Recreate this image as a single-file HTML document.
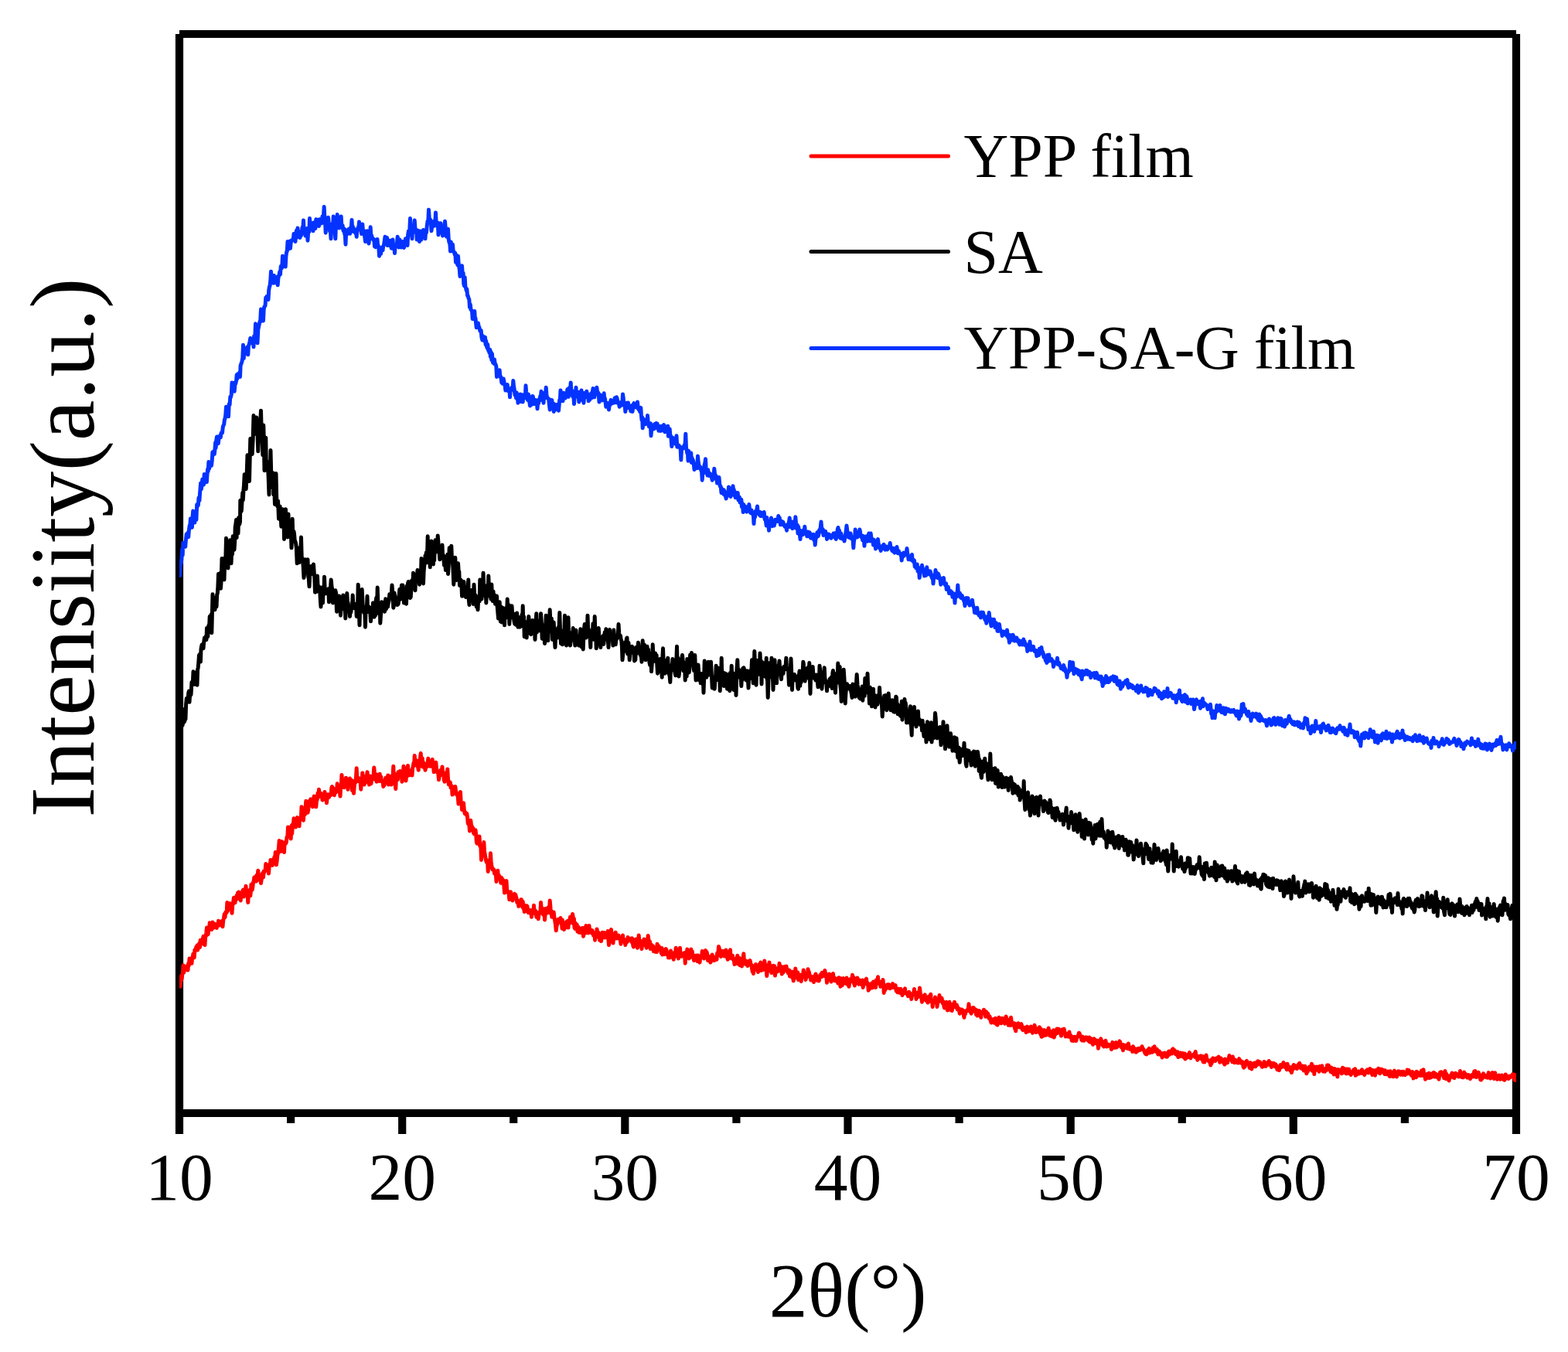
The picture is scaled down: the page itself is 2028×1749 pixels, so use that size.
<!DOCTYPE html>
<html lang="en">
<head>
<meta charset="utf-8">
<title>XRD patterns</title>
<style>
html, body { margin: 0; padding: 0; background: #ffffff; }
body { width: 2028px; height: 1749px; overflow: hidden; font-family: "Liberation Serif", serif; }
svg { display: block; }
</style>
</head>
<body>
<svg width="2028" height="1749" viewBox="0 0 2028 1749" role="img" aria-label="XRD patterns of YPP film, SA and YPP-SA-G film">
<rect width="2028" height="1749" fill="#ffffff"/>
<g id="axes" stroke="#000" stroke-width="10.2" stroke-linecap="butt" fill="none">
<line x1="232" y1="44" x2="232" y2="1467"/>
<line x1="1961" y1="44" x2="1961" y2="1467"/>
<line x1="232" y1="44" x2="1961" y2="44"/>
<line x1="232" y1="1440" x2="1961" y2="1440"/>
<line x1="520.2" y1="1440" x2="520.2" y2="1467"/>
<line x1="808.3" y1="1440" x2="808.3" y2="1467"/>
<line x1="1096.5" y1="1440" x2="1096.5" y2="1467"/>
<line x1="1384.7" y1="1440" x2="1384.7" y2="1467"/>
<line x1="1672.8" y1="1440" x2="1672.8" y2="1467"/>
<line x1="376.1" y1="1440" x2="376.1" y2="1453"/>
<line x1="664.2" y1="1440" x2="664.2" y2="1453"/>
<line x1="952.4" y1="1440" x2="952.4" y2="1453"/>
<line x1="1240.6" y1="1440" x2="1240.6" y2="1453"/>
<line x1="1528.8" y1="1440" x2="1528.8" y2="1453"/>
<line x1="1816.9" y1="1440" x2="1816.9" y2="1453"/>
</g>
<defs><clipPath id="plotclip"><rect x="232" y="44" width="1729.0" height="1396.0"/></clipPath></defs>
<g id="curves" clip-path="url(#plotclip)" fill="none" stroke-width="5" stroke-linejoin="round" stroke-linecap="round">
<polyline id="red" stroke="#ff0000" points="233.0,1276.2 233.8,1269.1 234.5,1262.5 235.1,1266.9 235.8,1260.7 236.4,1259.2 237.0,1248.8 237.8,1258.1 238.5,1252.1 239.2,1250.2 240.0,1251.2 240.7,1253.2 241.5,1250.0 242.2,1255.0 243.0,1255.0 243.7,1246.3 244.3,1249.0 245.0,1240.0 245.7,1245.7 246.6,1243.8 247.2,1243.0 248.0,1246.2 248.7,1238.4 249.3,1237.6 249.9,1234.0 250.6,1235.3 251.2,1238.8 251.9,1228.7 252.5,1229.2 253.1,1227.8 253.8,1225.0 254.4,1227.9 255.0,1223.1 255.7,1229.1 256.4,1222.3 257.0,1226.2 257.8,1220.2 258.5,1225.5 259.2,1216.2 260.0,1217.5 260.7,1220.9 261.4,1220.1 262.3,1214.6 263.0,1211.2 263.7,1221.5 264.3,1214.6 265.0,1222.5 265.6,1212.9 266.2,1211.1 266.8,1206.6 267.5,1200.0 268.3,1206.2 269.0,1208.9 269.7,1203.8 270.6,1202.6 271.2,1193.8 271.9,1201.6 272.6,1201.5 273.2,1202.3 273.8,1202.5 274.4,1200.8 275.0,1193.1 275.7,1200.4 276.4,1199.7 277.0,1195.0 277.7,1195.2 278.2,1197.6 278.9,1197.0 279.5,1200.0 280.2,1200.4 281.0,1196.7 281.7,1197.5 282.5,1191.2 283.2,1196.3 284.0,1196.8 284.7,1193.8 285.5,1192.5 286.1,1192.1 286.7,1191.6 287.4,1192.4 288.0,1198.8 288.7,1191.0 289.5,1187.5 290.3,1182.4 291.0,1186.6 291.7,1180.3 292.5,1181.2 293.2,1180.4 293.8,1167.5 294.4,1178.6 295.1,1175.0 295.7,1173.4 296.4,1171.7 297.0,1168.8 297.7,1172.8 298.6,1169.1 299.3,1173.3 300.0,1181.2 300.7,1171.4 301.3,1169.5 301.9,1165.1 302.5,1161.2 303.2,1162.5 304.0,1167.8 304.7,1163.0 305.5,1163.8 306.2,1158.3 306.9,1162.9 307.5,1155.0 308.3,1159.4 308.9,1154.0 309.8,1162.6 310.4,1159.4 311.2,1165.0 311.9,1156.8 312.4,1157.9 313.1,1157.3 313.8,1152.5 314.5,1151.0 315.2,1160.0 315.8,1152.0 316.5,1154.4 317.2,1156.3 318.0,1146.2 318.6,1155.4 319.3,1156.1 320.1,1158.0 320.8,1167.5 321.5,1153.2 322.3,1151.9 322.9,1157.1 323.8,1158.8 324.4,1153.5 324.9,1144.3 325.6,1146.0 326.2,1151.2 326.9,1146.8 327.6,1141.1 328.2,1140.2 328.8,1135.0 329.4,1137.6 330.0,1138.3 330.5,1139.4 331.2,1140.0 331.8,1132.4 332.5,1139.0 333.1,1133.0 333.8,1126.2 334.5,1132.2 335.3,1133.9 335.9,1134.6 336.7,1136.1 337.5,1142.5 338.3,1137.3 338.9,1131.8 339.8,1129.4 340.5,1135.0 341.2,1127.0 341.8,1128.5 342.4,1126.4 343.1,1126.1 343.8,1117.5 344.5,1118.8 345.2,1125.1 346.0,1125.8 346.8,1124.4 347.5,1130.0 348.2,1121.4 348.8,1117.7 349.4,1119.2 350.0,1112.5 350.7,1113.3 351.4,1115.3 352.3,1119.4 353.0,1116.2 353.7,1111.6 354.4,1111.8 355.0,1108.5 355.6,1115.6 356.2,1102.5 356.9,1114.3 357.5,1118.8 358.2,1113.2 358.9,1106.5 359.7,1103.3 360.5,1096.4 361.2,1087.5 362.0,1100.1 362.5,1096.4 363.2,1101.5 363.8,1097.4 364.5,1088.8 365.3,1091.9 366.0,1094.1 366.8,1092.1 367.5,1102.5 368.2,1089.7 368.8,1090.3 369.5,1091.2 370.3,1089.7 371.0,1082.9 371.8,1082.9 372.5,1070.0 373.2,1073.0 374.1,1082.2 374.8,1076.9 375.5,1076.2 376.2,1085.0 377.0,1068.2 377.7,1078.3 378.5,1066.3 379.3,1068.9 380.0,1058.8 380.6,1062.2 381.2,1067.0 381.9,1064.4 382.5,1070.0 383.2,1064.0 383.8,1068.1 384.5,1057.5 385.2,1066.3 385.7,1064.9 386.4,1059.3 387.0,1068.8 387.7,1058.2 388.5,1058.9 389.3,1059.7 390.0,1043.8 390.6,1051.1 391.3,1052.0 391.8,1057.8 392.5,1061.2 393.1,1045.5 393.8,1049.0 394.4,1053.8 395.1,1044.0 395.8,1036.2 396.5,1042.9 397.2,1049.3 398.0,1051.2 398.7,1047.7 399.4,1040.6 400.0,1036.6 400.6,1042.5 401.2,1035.0 401.9,1033.8 402.5,1040.7 403.1,1037.1 403.9,1037.6 404.5,1043.8 405.4,1034.9 406.2,1030.0 406.9,1039.8 407.4,1037.8 408.1,1033.6 408.8,1043.8 409.6,1034.6 410.3,1034.5 411.0,1025.9 411.8,1031.0 412.5,1021.2 413.1,1030.5 413.8,1026.9 414.4,1028.4 415.0,1026.2 415.7,1029.6 416.3,1028.2 416.9,1034.7 417.5,1035.0 418.2,1030.6 418.7,1029.1 419.3,1028.6 420.0,1024.5 420.6,1033.8 421.2,1030.2 421.9,1032.1 422.5,1038.8 423.3,1030.6 424.0,1027.7 424.7,1028.4 425.5,1031.4 426.2,1028.8 426.9,1027.7 427.6,1026.8 428.2,1028.4 428.8,1019.3 429.5,1017.5 430.3,1020.5 431.0,1019.6 431.8,1021.7 432.5,1028.8 433.2,1020.7 433.9,1025.6 434.8,1020.8 435.5,1024.1 436.2,1013.8 437.0,1019.6 437.8,1018.3 438.6,1020.8 439.2,1022.5 440.0,1030.0 440.7,1017.6 441.3,1016.4 442.0,1002.5 442.8,1013.2 443.4,1014.5 444.2,1013.5 445.0,1018.8 445.6,1009.9 446.2,1014.0 446.8,1015.2 447.5,1006.2 448.2,1010.3 448.8,1016.9 449.3,1016.1 450.0,1021.2 450.6,1014.7 451.3,1013.2 451.9,1010.9 452.5,1007.0 453.2,1011.2 454.1,1012.8 454.8,1009.5 455.5,1022.5 456.2,1014.5 456.8,1021.0 457.5,1026.2 458.3,1016.7 458.9,1010.2 459.7,1012.5 460.5,1005.1 461.2,993.8 461.9,1007.8 462.5,1005.4 463.1,1010.5 463.8,1010.0 464.5,1008.8 465.3,1007.0 466.1,1010.7 466.8,1021.2 467.3,1011.6 468.1,1013.0 468.8,1000.0 469.4,1004.9 470.0,1007.3 470.5,1006.3 471.2,1015.0 471.9,1008.6 472.7,1012.4 473.5,1004.2 474.3,1005.4 475.0,998.8 475.6,1004.1 476.3,1006.6 476.9,1006.4 477.5,1015.0 478.1,1004.7 478.7,1004.1 479.5,1007.2 480.0,1013.8 480.8,1005.7 481.5,1004.1 482.2,1005.4 483.0,1004.5 483.8,993.0 484.4,1000.4 485.0,1008.2 485.7,1002.5 486.4,1002.3 487.0,1011.2 487.7,1002.1 488.4,1008.5 489.1,1009.3 489.8,1002.8 490.6,1010.6 491.2,1001.2 491.9,1006.9 492.8,1005.1 493.4,1010.9 494.3,1011.4 495.0,1010.0 495.8,1017.5 496.5,1010.8 497.2,1015.7 498.0,1009.5 498.8,1006.2 499.6,1006.5 500.3,1009.4 501.0,1010.2 501.8,1002.9 502.5,1015.0 503.3,1009.8 503.9,1007.7 504.7,1004.3 505.5,1007.8 506.2,1015.0 506.9,1006.2 507.5,1005.2 508.1,1004.7 508.8,991.2 509.4,1007.8 510.3,1001.0 511.0,1013.8 511.8,1020.5 512.4,1005.2 513.0,1004.5 513.7,1006.4 514.4,1008.6 515.0,998.8 515.6,1000.4 516.2,1002.3 516.9,1003.2 517.5,997.5 518.2,1003.8 518.7,1000.6 519.3,1002.9 520.0,1011.2 520.7,1004.6 521.3,1000.7 522.0,991.2 522.8,1000.1 523.5,999.7 524.2,1001.5 525.0,1010.0 525.7,1002.0 526.3,1003.6 526.8,994.9 527.5,990.5 528.1,999.7 528.7,1003.1 529.3,999.7 530.0,1002.5 530.8,999.5 531.5,996.9 532.2,999.3 533.0,1003.0 533.6,993.6 534.3,991.6 534.9,987.3 535.6,990.6 536.2,977.5 536.9,987.2 537.5,985.5 538.2,983.8 538.8,983.8 539.4,990.3 540.0,990.6 540.6,992.4 541.2,996.2 541.9,987.6 542.8,991.2 543.4,981.4 544.2,974.5 545.0,985.1 545.6,987.3 546.3,981.0 546.8,992.1 547.5,986.2 548.2,989.9 548.7,992.9 549.4,988.4 550.0,996.2 550.8,992.0 551.5,992.2 552.2,987.5 552.9,990.4 553.8,981.2 554.4,989.9 554.9,990.8 555.7,990.2 556.2,991.2 556.9,985.8 557.7,991.3 558.5,984.7 559.2,982.5 559.9,989.9 560.7,991.9 561.2,998.8 561.8,992.9 562.5,993.3 563.1,991.9 563.8,986.2 564.5,994.1 565.3,998.9 566.0,998.2 566.7,999.2 567.5,1008.8 568.3,1003.9 569.0,1003.2 569.7,996.6 570.5,1002.4 571.2,997.9 572.0,992.0 572.8,1002.4 573.6,999.2 574.3,1009.1 575.0,1011.2 575.7,1007.2 576.6,1004.3 577.3,1009.0 578.1,1001.8 578.8,995.0 579.4,1006.8 580.3,1014.8 581.0,1013.9 581.8,1012.5 582.3,1012.2 583.0,1019.0 583.7,1016.4 584.4,1016.8 585.0,1028.0 585.7,1020.2 586.5,1023.5 587.3,1018.8 588.0,1026.6 588.8,1017.5 589.4,1021.7 590.0,1025.2 590.7,1026.0 591.2,1028.8 592.1,1028.9 593.0,1040.0 593.7,1032.5 594.2,1033.3 594.9,1033.3 595.5,1024.5 596.2,1038.5 596.9,1038.7 597.5,1047.5 598.2,1042.0 598.8,1039.0 599.5,1038.8 600.4,1048.4 601.2,1052.5 601.9,1050.9 602.6,1053.5 603.1,1053.4 603.8,1052.5 604.6,1057.7 605.3,1065.4 606.0,1066.2 606.7,1065.7 607.5,1075.0 608.1,1070.2 608.8,1061.2 609.5,1067.4 610.3,1068.7 611.0,1073.7 611.7,1071.1 612.5,1077.5 613.2,1078.6 613.8,1075.4 614.4,1077.9 615.0,1073.8 615.7,1079.5 616.3,1088.9 617.0,1091.2 617.7,1087.3 618.5,1086.4 619.3,1088.2 620.0,1082.0 620.7,1094.3 621.3,1093.9 621.9,1095.3 622.5,1112.5 623.1,1098.6 623.9,1102.2 624.4,1102.4 625.1,1104.3 625.8,1089.5 626.5,1100.5 627.3,1106.3 628.0,1110.0 628.6,1113.3 629.3,1115.3 629.9,1113.5 630.6,1114.4 631.2,1127.5 632.0,1116.5 632.6,1113.0 633.3,1113.6 633.8,1116.2 634.5,1103.8 635.1,1114.9 635.7,1118.9 636.5,1123.3 637.0,1125.0 637.6,1124.9 638.2,1124.3 638.9,1125.2 639.5,1130.0 640.2,1127.1 640.8,1128.7 641.3,1130.3 642.0,1140.5 642.9,1132.0 643.8,1126.2 644.3,1134.0 645.0,1131.9 645.7,1133.3 646.4,1136.4 647.0,1136.2 647.8,1142.2 648.5,1135.3 649.3,1136.8 650.0,1138.8 650.7,1138.4 651.2,1142.1 651.8,1145.2 652.5,1155.0 653.1,1145.7 653.8,1147.2 654.4,1152.0 655.0,1139.5 655.7,1152.2 656.5,1152.6 657.3,1154.9 658.0,1155.2 658.8,1163.8 659.7,1156.0 660.5,1153.8 661.1,1159.4 661.8,1160.1 662.4,1161.8 663.0,1165.0 663.7,1161.5 664.3,1161.1 664.8,1161.8 665.5,1156.2 666.2,1161.6 666.8,1157.4 667.4,1160.0 668.1,1162.1 668.8,1167.5 669.4,1165.2 670.0,1166.0 670.8,1172.5 671.5,1169.2 672.3,1170.7 673.0,1166.8 673.8,1163.8 674.4,1163.7 675.0,1168.7 675.7,1173.3 676.2,1166.2 676.9,1175.1 677.5,1174.1 678.2,1179.5 679.0,1171.2 679.8,1177.6 680.5,1178.4 681.3,1171.8 682.0,1172.5 682.7,1178.1 683.3,1180.8 684.1,1179.2 684.7,1180.7 685.5,1177.5 686.1,1181.2 686.8,1179.9 687.5,1186.2 688.2,1177.6 689.0,1180.3 689.7,1181.6 690.5,1171.2 691.2,1180.1 691.8,1179.3 692.5,1178.0 693.0,1180.0 693.8,1186.2 694.3,1183.3 695.1,1182.6 695.6,1180.6 696.2,1188.8 696.9,1183.9 697.6,1180.0 698.2,1181.6 698.9,1180.2 699.5,1167.5 700.4,1176.6 701.2,1181.2 702.0,1181.1 702.6,1183.1 703.2,1179.9 703.8,1175.8 704.5,1190.0 705.3,1180.3 706.0,1175.5 706.7,1179.5 707.5,1175.0 708.2,1181.0 709.1,1176.7 709.7,1173.3 710.5,1178.7 711.2,1165.0 711.9,1173.3 712.4,1181.9 713.1,1178.5 713.8,1186.2 714.3,1186.1 715.0,1185.2 715.6,1184.6 716.2,1180.0 716.9,1186.8 717.7,1191.1 718.5,1196.2 719.2,1203.8 720.0,1197.8 720.5,1196.4 721.2,1190.0 722.1,1189.3 722.8,1189.2 723.5,1190.1 724.2,1192.0 725.0,1187.5 725.7,1194.4 726.3,1190.4 727.0,1201.2 727.3,1190.0 728.0,1195.5 728.7,1198.1 729.5,1202.5 730.3,1195.7 730.9,1199.9 731.7,1196.1 732.5,1192.5 733.0,1199.8 733.8,1196.7 734.4,1191.3 735.0,1200.0 735.6,1190.8 736.3,1192.0 736.8,1190.6 737.5,1186.2 738.3,1193.7 739.1,1190.1 739.7,1189.2 740.5,1182.5 741.1,1185.8 741.8,1195.1 742.4,1188.4 743.0,1200.0 743.6,1201.3 744.3,1194.2 745.0,1197.3 745.6,1197.3 746.2,1196.2 746.9,1205.1 747.5,1200.6 748.1,1199.3 748.8,1206.2 749.4,1202.0 750.1,1203.7 750.8,1206.4 751.3,1201.9 752.0,1201.2 752.6,1205.9 753.2,1200.6 753.9,1206.9 754.5,1211.2 755.3,1200.5 756.0,1207.8 756.7,1207.3 757.3,1206.9 758.0,1197.5 758.6,1204.7 759.4,1201.9 760.0,1202.2 760.7,1207.0 761.3,1204.6 762.0,1197.5 762.6,1205.9 763.2,1202.3 763.9,1205.2 764.5,1203.8 765.3,1206.9 766.0,1203.6 766.8,1206.0 767.5,1210.0 768.2,1208.3 768.9,1207.2 769.5,1216.2 770.1,1211.7 770.8,1208.9 771.4,1212.5 772.0,1202.0 772.7,1206.3 773.5,1211.6 774.2,1206.6 775.0,1210.0 775.6,1216.3 776.2,1209.4 776.8,1215.7 777.5,1217.5 778.2,1212.9 779.1,1206.2 779.7,1208.5 780.5,1207.5 781.2,1212.7 781.8,1206.5 782.5,1212.9 783.1,1208.5 783.8,1212.5 784.4,1207.3 784.9,1208.7 785.6,1210.2 786.2,1204.5 786.8,1214.8 787.5,1222.5 788.3,1218.6 789.0,1213.6 789.7,1210.5 790.5,1202.5 791.1,1208.8 791.8,1207.9 792.3,1208.8 793.0,1220.0 793.6,1210.3 794.3,1213.3 795.0,1208.1 795.7,1214.1 796.2,1206.2 796.9,1214.0 797.8,1211.1 798.5,1213.8 799.2,1211.5 800.0,1210.0 800.8,1214.4 801.4,1213.0 802.3,1215.6 803.0,1221.2 803.7,1216.8 804.3,1218.3 804.8,1213.7 805.5,1210.0 806.1,1215.5 806.8,1217.0 807.4,1215.4 808.2,1218.1 808.8,1222.5 809.5,1219.2 810.0,1215.9 810.7,1216.5 811.3,1218.5 812.0,1212.5 812.7,1213.8 813.5,1213.9 814.3,1215.6 815.0,1216.2 815.6,1214.4 816.2,1215.2 816.8,1218.5 817.5,1213.8 818.1,1217.2 818.8,1223.3 819.5,1225.0 820.3,1218.7 821.0,1220.1 821.8,1215.4 822.5,1215.0 823.1,1218.2 823.8,1220.4 824.5,1226.2 825.4,1218.7 826.2,1210.0 827.0,1220.8 827.7,1219.9 828.5,1217.1 829.3,1220.6 830.0,1227.5 830.7,1220.0 831.5,1220.8 832.2,1219.9 833.0,1215.0 833.7,1220.6 834.3,1216.0 834.9,1223.2 835.6,1218.7 836.2,1226.2 836.9,1218.9 837.6,1216.0 838.2,1210.5 839.1,1217.1 839.7,1218.7 840.5,1218.1 841.2,1227.5 841.9,1221.9 842.6,1222.4 843.1,1224.1 843.8,1226.6 844.5,1223.8 845.2,1230.4 846.1,1225.8 846.7,1230.1 847.5,1231.2 848.1,1228.1 848.8,1230.2 849.5,1231.5 850.0,1221.2 850.7,1226.0 851.5,1227.1 852.2,1224.0 853.0,1227.5 853.8,1226.4 854.6,1230.0 855.2,1233.0 856.1,1226.6 856.7,1235.0 857.5,1233.8 858.2,1231.1 859.0,1230.4 859.8,1234.4 860.5,1229.3 861.2,1227.5 861.9,1228.7 862.6,1233.0 863.2,1235.1 863.8,1233.8 864.5,1238.8 865.3,1232.9 866.0,1238.9 866.8,1233.3 867.5,1230.0 868.3,1237.7 869.0,1236.2 869.7,1234.7 870.6,1239.0 871.2,1241.2 872.0,1232.5 872.7,1232.9 873.5,1232.9 874.2,1226.2 875.0,1231.0 875.5,1237.3 876.1,1233.4 876.9,1234.2 877.5,1240.0 878.2,1237.2 878.8,1234.8 879.5,1226.2 880.2,1235.8 881.1,1233.8 881.7,1237.2 882.5,1236.2 883.2,1233.5 884.0,1236.0 884.7,1236.9 885.5,1232.5 886.2,1246.2 886.9,1233.7 887.5,1237.3 888.2,1233.2 888.8,1228.0 889.4,1231.9 889.9,1234.5 890.6,1232.4 891.2,1240.0 891.9,1234.1 892.5,1238.5 893.1,1234.6 893.8,1228.0 894.4,1232.9 895.3,1230.9 896.0,1238.2 896.8,1236.7 897.5,1242.5 898.3,1239.7 899.0,1236.2 899.7,1241.4 900.4,1238.2 901.2,1236.2 901.9,1243.6 902.8,1236.1 903.5,1236.8 904.2,1244.1 905.0,1245.0 905.6,1240.2 906.3,1237.5 907.0,1238.1 907.6,1235.7 908.2,1230.5 908.9,1232.9 909.7,1236.4 910.5,1240.0 911.2,1236.2 911.9,1237.4 912.5,1229.5 913.2,1237.6 914.0,1231.5 914.7,1234.2 915.5,1242.5 916.2,1238.2 916.8,1238.8 917.5,1237.8 918.1,1237.5 918.8,1245.0 919.4,1244.2 920.0,1240.0 920.6,1238.6 921.2,1235.0 921.9,1239.4 922.5,1238.6 923.1,1240.8 923.8,1242.5 924.4,1238.8 925.1,1238.2 925.8,1240.6 926.3,1238.1 927.0,1241.2 927.6,1233.1 928.3,1236.0 928.8,1233.2 929.5,1224.5 930.2,1226.6 931.0,1231.2 931.8,1232.4 932.5,1237.5 933.2,1234.6 934.0,1230.2 934.7,1230.8 935.5,1232.4 936.2,1230.5 937.0,1237.0 937.5,1231.4 938.2,1234.7 938.9,1229.0 939.5,1230.0 940.3,1237.4 941.2,1241.2 942.0,1235.2 942.5,1236.1 943.2,1237.5 943.8,1236.0 944.5,1228.8 945.2,1239.6 946.0,1236.3 946.8,1239.2 947.5,1236.2 948.1,1241.2 948.8,1239.8 949.3,1242.1 950.0,1247.5 950.8,1242.2 951.4,1245.2 952.2,1245.2 953.1,1239.9 953.8,1236.2 954.4,1247.0 955.1,1238.9 955.7,1241.6 956.4,1239.4 957.0,1248.8 957.6,1240.5 958.2,1242.6 958.8,1243.7 959.5,1250.0 960.3,1244.6 961.0,1239.3 961.8,1233.8 962.4,1242.0 963.1,1242.2 963.9,1242.6 964.5,1247.5 965.2,1244.9 965.7,1243.5 966.3,1243.7 967.0,1249.5 967.7,1243.8 968.5,1246.6 969.3,1245.6 970.0,1242.5 970.6,1244.9 971.3,1248.9 971.8,1248.1 972.5,1252.5 973.2,1256.9 973.9,1249.6 974.5,1259.5 975.2,1253.2 976.0,1254.0 976.8,1251.5 977.5,1247.5 978.2,1254.1 979.0,1254.4 979.8,1250.3 980.5,1257.5 981.1,1252.4 981.8,1255.7 982.5,1247.0 983.2,1249.9 983.8,1245.0 984.5,1255.6 985.1,1251.6 985.8,1253.3 986.6,1253.5 987.4,1254.3 988.1,1253.0 988.8,1243.0 989.6,1250.9 990.2,1254.2 990.9,1248.5 991.8,1262.5 992.5,1255.8 993.0,1251.7 993.7,1254.7 994.3,1252.3 995.0,1245.0 995.7,1255.8 996.5,1249.2 997.2,1252.1 998.0,1258.6 998.8,1253.8 999.5,1254.1 1000.3,1249.2 1001.0,1254.1 1001.7,1249.7 1002.5,1262.0 1003.3,1252.5 1003.9,1253.5 1004.7,1257.4 1005.5,1253.8 1006.2,1253.8 1006.7,1256.2 1007.4,1254.0 1008.0,1246.2 1008.7,1252.4 1009.3,1252.8 1010.0,1250.0 1010.6,1252.1 1011.2,1260.0 1011.9,1255.4 1012.5,1256.6 1013.1,1257.9 1013.8,1252.0 1014.4,1250.5 1015.0,1252.2 1015.7,1253.4 1016.3,1255.0 1017.0,1250.0 1017.8,1254.9 1018.5,1257.0 1019.3,1258.6 1020.0,1259.5 1020.7,1255.0 1021.5,1262.9 1022.3,1258.4 1023.0,1262.7 1023.8,1258.8 1024.4,1257.2 1024.9,1265.0 1025.7,1261.0 1026.2,1268.8 1026.8,1265.9 1027.4,1264.0 1028.2,1263.0 1028.8,1253.0 1029.5,1264.4 1030.3,1263.2 1031.1,1264.6 1031.8,1258.1 1032.5,1267.5 1033.3,1261.0 1034.0,1260.9 1034.7,1263.4 1035.5,1262.6 1036.2,1269.5 1037.0,1261.0 1037.7,1262.1 1038.5,1263.4 1039.2,1255.0 1039.9,1259.4 1040.6,1260.6 1041.4,1261.1 1042.0,1267.5 1042.8,1264.3 1043.5,1261.0 1044.3,1261.3 1045.0,1253.8 1045.7,1256.7 1046.5,1257.8 1047.3,1263.7 1048.1,1262.9 1048.8,1268.0 1049.6,1263.1 1050.3,1265.2 1051.0,1266.8 1051.7,1267.3 1052.5,1270.5 1053.2,1266.9 1053.7,1263.9 1054.4,1261.1 1055.0,1260.0 1055.8,1265.7 1056.5,1267.6 1057.2,1262.7 1058.0,1268.8 1058.7,1267.5 1059.3,1268.8 1059.9,1263.7 1060.6,1262.9 1061.2,1261.2 1061.9,1260.2 1062.6,1263.7 1063.2,1258.3 1063.8,1262.5 1064.5,1261.3 1065.2,1259.4 1065.9,1262.5 1066.8,1255.5 1067.4,1258.2 1068.1,1260.4 1068.8,1262.6 1069.5,1271.2 1070.2,1264.2 1071.0,1263.4 1071.8,1265.0 1072.5,1260.0 1073.1,1267.3 1073.8,1264.7 1074.4,1262.8 1075.0,1270.0 1075.6,1266.8 1076.3,1260.7 1076.8,1264.1 1077.5,1259.5 1078.2,1267.3 1079.0,1264.5 1079.8,1268.8 1080.5,1268.5 1081.2,1266.2 1081.8,1269.1 1082.5,1266.7 1083.1,1266.0 1083.8,1272.0 1084.4,1270.7 1085.0,1264.7 1085.8,1269.9 1086.4,1270.8 1087.0,1276.2 1087.7,1265.8 1088.6,1267.5 1089.3,1274.8 1090.0,1267.5 1090.7,1265.6 1091.4,1270.0 1092.1,1270.9 1092.8,1268.9 1093.6,1272.2 1094.2,1268.6 1095.0,1265.0 1095.7,1271.0 1096.4,1273.5 1097.2,1271.6 1098.0,1276.2 1098.7,1271.0 1099.6,1266.7 1100.3,1268.6 1100.9,1268.8 1101.8,1266.8 1102.5,1261.2 1103.2,1270.4 1104.0,1264.3 1104.7,1272.9 1105.5,1275.0 1106.1,1268.8 1106.7,1270.9 1107.4,1271.6 1108.1,1271.0 1108.8,1265.0 1109.3,1267.9 1110.0,1267.7 1110.7,1273.3 1111.3,1267.8 1112.0,1271.2 1112.7,1269.8 1113.4,1272.9 1114.1,1273.6 1114.8,1272.1 1115.5,1267.9 1116.2,1277.5 1116.9,1272.8 1117.6,1270.3 1118.4,1273.2 1119.1,1270.8 1119.8,1267.1 1120.5,1266.2 1121.2,1272.3 1121.9,1272.5 1122.5,1272.0 1123.2,1281.2 1124.0,1275.1 1124.7,1279.4 1125.4,1275.1 1126.2,1275.0 1126.9,1272.6 1127.6,1275.4 1128.2,1277.9 1128.8,1271.7 1129.5,1270.0 1130.2,1271.9 1131.0,1271.9 1131.8,1271.1 1132.5,1277.5 1133.2,1267.9 1133.9,1271.1 1134.7,1269.6 1135.5,1263.8 1136.1,1272.3 1136.7,1272.4 1137.5,1269.9 1138.1,1270.3 1138.8,1276.2 1139.4,1274.9 1140.1,1270.3 1140.7,1273.0 1141.3,1275.1 1142.0,1267.5 1142.7,1274.5 1143.2,1284.5 1143.9,1279.1 1144.7,1281.0 1145.3,1276.4 1146.1,1276.8 1146.8,1274.7 1147.5,1273.8 1148.3,1277.9 1148.9,1275.0 1149.8,1273.7 1150.5,1275.3 1151.2,1278.8 1151.8,1276.1 1152.5,1276.6 1153.3,1276.6 1153.8,1277.5 1154.5,1272.5 1155.2,1274.3 1156.0,1274.7 1156.6,1277.5 1157.3,1276.5 1158.1,1274.6 1158.8,1280.0 1159.3,1282.0 1160.0,1281.8 1160.7,1283.7 1161.4,1282.1 1162.0,1283.8 1162.7,1279.1 1163.4,1284.2 1164.3,1280.1 1165.0,1279.5 1165.7,1284.9 1166.3,1282.0 1167.0,1287.5 1167.6,1284.0 1168.4,1285.4 1169.1,1281.6 1169.8,1280.8 1170.5,1278.8 1171.1,1284.9 1171.8,1284.8 1172.5,1285.0 1173.1,1284.6 1173.8,1286.2 1174.5,1288.6 1175.1,1286.0 1175.7,1283.3 1176.2,1287.5 1176.8,1285.2 1177.6,1287.3 1178.1,1285.7 1178.8,1292.5 1179.5,1286.6 1180.2,1287.7 1181.0,1286.0 1181.8,1283.5 1182.5,1279.5 1183.1,1287.1 1183.8,1285.2 1184.4,1284.4 1185.0,1292.5 1185.8,1285.5 1186.5,1284.5 1187.3,1289.8 1187.9,1288.4 1188.7,1286.0 1189.5,1278.0 1190.3,1285.0 1191.1,1289.0 1191.8,1290.9 1192.5,1296.2 1193.3,1291.3 1194.0,1292.6 1194.8,1289.0 1195.5,1287.5 1196.2,1286.8 1197.1,1290.8 1197.7,1294.2 1198.5,1295.1 1199.3,1291.2 1200.0,1297.0 1200.7,1294.5 1201.4,1289.0 1202.3,1295.3 1203.0,1292.3 1203.8,1286.2 1204.3,1295.2 1205.0,1294.4 1205.6,1294.6 1206.2,1302.5 1206.5,1296.2 1207.3,1296.3 1208.0,1296.8 1208.7,1295.5 1209.5,1290.0 1210.1,1294.1 1210.7,1295.5 1211.4,1295.4 1212.0,1302.5 1212.7,1296.9 1213.4,1295.2 1214.2,1295.8 1215.0,1287.5 1215.7,1294.8 1216.6,1293.4 1217.2,1294.0 1218.0,1291.2 1218.6,1294.3 1219.2,1297.7 1219.9,1295.4 1220.5,1298.8 1221.1,1302.6 1221.7,1303.9 1222.4,1298.0 1223.0,1300.0 1223.6,1299.7 1224.3,1296.4 1224.9,1301.8 1225.5,1307.0 1226.0,1301.4 1226.7,1302.8 1227.3,1298.5 1228.0,1296.2 1228.6,1301.2 1229.3,1306.5 1230.0,1300.5 1230.6,1302.2 1231.2,1307.5 1232.0,1302.9 1232.5,1298.9 1233.2,1298.9 1233.8,1300.5 1234.5,1296.2 1235.2,1301.7 1235.9,1302.8 1236.8,1302.1 1237.5,1300.0 1238.3,1305.8 1239.0,1303.3 1239.7,1305.6 1240.5,1306.4 1241.2,1311.2 1241.9,1305.5 1242.5,1310.0 1243.2,1308.0 1243.9,1306.8 1244.5,1306.2 1245.2,1307.5 1245.7,1309.9 1246.4,1313.3 1247.0,1316.2 1247.7,1307.9 1248.5,1311.6 1249.2,1308.4 1250.0,1307.5 1250.8,1306.6 1251.4,1307.4 1252.3,1305.4 1253.0,1298.8 1253.7,1305.6 1254.4,1303.3 1255.0,1309.0 1255.6,1309.3 1256.2,1311.2 1256.8,1307.3 1257.6,1306.4 1258.3,1308.5 1258.8,1303.4 1259.5,1303.8 1260.3,1307.6 1261.0,1306.7 1261.7,1306.0 1262.5,1312.5 1263.2,1306.7 1264.0,1313.9 1264.8,1309.7 1265.5,1310.0 1266.2,1307.5 1266.8,1313.8 1267.5,1308.3 1268.1,1313.2 1268.8,1316.2 1269.6,1310.3 1270.2,1309.9 1271.0,1310.8 1271.7,1310.2 1272.5,1306.2 1273.2,1310.7 1274.0,1311.1 1274.7,1315.1 1275.4,1308.8 1276.2,1310.0 1276.9,1313.6 1277.8,1311.4 1278.4,1315.8 1279.3,1317.6 1280.0,1315.0 1280.7,1317.0 1281.4,1321.1 1282.0,1323.0 1282.6,1321.5 1283.4,1320.8 1284.1,1320.4 1284.8,1318.5 1285.5,1320.5 1286.2,1323.3 1286.9,1320.8 1287.4,1317.3 1288.1,1321.2 1288.8,1325.0 1289.4,1322.5 1290.1,1326.0 1290.7,1320.7 1291.3,1320.7 1292.0,1316.2 1292.7,1322.9 1293.5,1320.6 1294.3,1321.1 1295.0,1323.8 1295.8,1317.3 1296.5,1318.0 1297.3,1319.3 1298.0,1317.5 1298.7,1319.9 1299.4,1324.2 1300.0,1323.0 1300.6,1318.8 1301.2,1315.0 1302.0,1319.6 1302.8,1318.7 1303.5,1319.1 1304.2,1326.2 1304.8,1320.6 1305.6,1320.7 1306.3,1321.1 1306.8,1326.4 1307.5,1316.2 1308.3,1322.1 1309.0,1326.0 1309.8,1324.8 1310.5,1325.0 1311.1,1323.8 1311.8,1323.7 1312.5,1330.6 1313.1,1329.0 1313.8,1333.8 1314.4,1324.8 1315.0,1326.0 1315.6,1328.5 1316.4,1327.9 1317.0,1323.8 1317.7,1328.7 1318.6,1329.0 1319.2,1327.0 1320.0,1325.0 1320.7,1324.6 1321.5,1326.2 1322.2,1331.6 1323.0,1332.5 1323.6,1331.6 1324.3,1329.8 1324.9,1329.3 1325.7,1329.5 1326.2,1331.2 1327.1,1335.5 1327.7,1331.3 1328.5,1328.1 1329.2,1328.8 1329.8,1334.2 1330.6,1331.6 1331.2,1330.4 1331.9,1331.4 1332.5,1333.8 1333.3,1328.1 1333.9,1333.7 1334.8,1330.1 1335.5,1336.2 1336.1,1330.2 1336.7,1332.6 1337.4,1331.8 1338.0,1326.2 1338.6,1328.2 1339.3,1334.2 1339.9,1335.4 1340.7,1331.1 1341.2,1333.8 1342.0,1330.7 1342.6,1332.5 1343.2,1332.8 1343.9,1335.3 1344.5,1328.8 1345.1,1334.5 1345.8,1338.0 1346.3,1331.0 1347.0,1341.2 1347.6,1341.1 1348.4,1335.2 1349.2,1340.0 1349.7,1336.5 1350.5,1332.5 1351.2,1339.5 1351.8,1336.1 1352.4,1338.1 1353.1,1337.3 1353.8,1338.8 1354.4,1333.3 1355.0,1338.2 1355.6,1333.3 1356.2,1330.0 1356.9,1334.7 1357.6,1333.6 1358.2,1340.1 1358.8,1337.2 1359.5,1340.0 1360.2,1335.1 1360.9,1340.8 1361.7,1337.5 1362.5,1332.8 1363.2,1342.0 1364.0,1339.0 1364.8,1338.3 1365.5,1333.9 1366.2,1333.8 1366.9,1331.0 1367.6,1336.4 1368.2,1332.5 1368.9,1331.1 1369.5,1331.2 1370.2,1335.2 1371.0,1335.5 1371.7,1335.6 1372.5,1340.0 1373.3,1334.8 1374.0,1331.9 1374.8,1335.3 1375.5,1333.1 1376.2,1331.2 1376.8,1334.0 1377.5,1337.4 1378.2,1340.9 1378.9,1337.0 1379.5,1340.0 1380.2,1338.5 1381.0,1340.9 1381.6,1338.9 1382.3,1339.3 1383.0,1335.0 1383.6,1341.5 1384.2,1338.7 1384.9,1339.6 1385.5,1341.4 1386.2,1346.2 1387.0,1344.2 1387.8,1341.7 1388.4,1346.4 1389.3,1341.2 1390.0,1341.2 1390.6,1341.8 1391.2,1345.0 1391.8,1346.4 1392.5,1343.8 1393.2,1341.0 1393.9,1340.7 1394.8,1338.9 1395.5,1336.2 1396.2,1337.0 1396.8,1339.2 1397.5,1341.7 1398.1,1341.7 1398.8,1345.0 1399.4,1345.9 1400.1,1341.0 1400.7,1344.1 1401.3,1344.9 1402.0,1346.2 1402.8,1344.9 1403.5,1344.0 1404.2,1341.9 1405.0,1343.8 1405.8,1342.0 1406.4,1345.1 1407.2,1345.9 1407.9,1346.6 1408.8,1342.0 1409.4,1348.0 1410.0,1345.3 1410.7,1346.5 1411.4,1343.6 1412.0,1348.8 1412.7,1347.4 1413.5,1351.3 1414.2,1349.9 1415.0,1343.8 1415.7,1344.6 1416.5,1348.7 1417.2,1345.8 1418.0,1350.0 1418.6,1350.1 1419.3,1345.9 1419.9,1349.3 1420.5,1356.2 1421.2,1351.8 1421.7,1351.5 1422.4,1349.7 1423.2,1348.6 1423.8,1343.8 1424.3,1349.1 1425.0,1346.5 1425.7,1349.1 1426.2,1352.5 1427.1,1347.9 1427.7,1354.0 1428.5,1349.3 1429.2,1350.7 1430.0,1346.2 1430.8,1352.0 1431.5,1354.0 1432.2,1351.2 1433.0,1353.4 1433.8,1351.2 1434.5,1351.5 1435.3,1352.0 1436.0,1353.4 1436.7,1353.5 1437.5,1357.5 1438.3,1351.0 1438.9,1348.4 1439.7,1353.2 1440.6,1355.3 1441.2,1349.5 1442.0,1355.3 1442.7,1351.6 1443.6,1348.6 1444.3,1355.0 1445.0,1353.8 1445.8,1352.3 1446.5,1352.7 1447.3,1350.5 1448.1,1346.9 1448.8,1348.0 1449.5,1353.6 1450.3,1354.8 1451.0,1351.7 1451.7,1351.6 1452.5,1358.8 1453.2,1351.7 1454.0,1356.0 1454.8,1355.1 1455.4,1352.5 1456.2,1353.8 1456.9,1352.2 1457.6,1355.6 1458.2,1356.3 1458.8,1355.1 1459.5,1350.0 1460.2,1354.7 1461.0,1357.1 1461.7,1355.1 1462.5,1357.5 1463.2,1357.6 1464.0,1356.9 1464.7,1360.4 1465.5,1353.8 1466.1,1359.6 1466.9,1355.9 1467.5,1357.2 1468.1,1360.5 1468.9,1358.9 1469.5,1361.2 1470.2,1360.1 1470.9,1359.9 1471.6,1356.5 1472.3,1356.4 1473.0,1356.2 1473.7,1358.7 1474.4,1357.2 1475.1,1358.0 1475.6,1357.0 1476.4,1356.7 1477.0,1353.8 1477.8,1356.4 1478.5,1356.6 1479.2,1358.1 1480.0,1360.0 1480.8,1362.1 1481.5,1363.3 1482.2,1362.5 1483.0,1363.8 1483.7,1359.9 1484.3,1358.4 1484.9,1358.3 1485.6,1358.3 1486.2,1356.2 1487.0,1362.1 1487.7,1359.0 1488.6,1359.4 1489.3,1358.9 1490.0,1361.2 1490.6,1361.1 1491.3,1355.2 1492.0,1357.6 1492.7,1359.4 1493.2,1353.8 1494.0,1359.8 1494.8,1358.4 1495.6,1360.6 1496.3,1357.2 1497.0,1361.2 1497.8,1363.9 1498.4,1360.6 1499.2,1359.8 1500.0,1362.5 1500.8,1364.4 1501.5,1364.8 1502.2,1362.4 1503.0,1368.0 1503.6,1364.9 1504.3,1366.4 1504.9,1363.4 1505.6,1363.2 1506.2,1362.0 1506.9,1363.7 1507.5,1366.5 1508.2,1364.3 1508.9,1367.3 1509.5,1367.0 1510.3,1365.9 1510.9,1361.1 1511.6,1360.2 1512.3,1364.4 1513.0,1360.0 1513.7,1361.9 1514.3,1363.0 1515.1,1360.5 1515.7,1363.0 1516.4,1357.4 1517.0,1357.0 1517.8,1358.2 1518.4,1361.4 1519.1,1358.6 1519.9,1361.1 1520.5,1363.8 1521.2,1363.7 1521.8,1364.5 1522.4,1364.0 1523.1,1360.7 1523.8,1367.5 1524.4,1366.6 1525.0,1363.4 1525.7,1366.8 1526.3,1366.1 1527.0,1362.0 1527.8,1366.3 1528.6,1365.1 1529.3,1364.0 1530.0,1362.5 1530.8,1364.3 1531.5,1368.3 1532.3,1363.0 1533.0,1370.0 1533.6,1367.4 1534.4,1368.2 1534.9,1367.9 1535.7,1365.0 1536.3,1367.9 1537.0,1363.8 1537.8,1365.7 1538.5,1361.6 1539.2,1367.9 1540.0,1368.8 1540.8,1366.5 1541.6,1365.6 1542.3,1365.4 1543.0,1364.5 1543.6,1365.7 1544.3,1366.1 1545.0,1362.8 1545.6,1367.4 1546.2,1360.5 1546.9,1365.3 1547.5,1365.6 1548.1,1368.1 1548.8,1371.2 1549.5,1368.5 1550.2,1368.0 1551.0,1366.7 1551.7,1367.6 1552.5,1368.8 1553.2,1365.9 1554.0,1369.8 1554.8,1370.9 1555.5,1366.5 1556.2,1373.8 1557.0,1368.2 1557.8,1374.1 1558.4,1369.0 1559.2,1368.6 1560.0,1365.0 1560.8,1369.8 1561.4,1370.5 1562.3,1371.9 1563.0,1372.5 1563.6,1373.3 1564.4,1373.4 1565.0,1373.9 1565.8,1378.0 1566.6,1370.9 1567.2,1375.6 1568.0,1371.5 1568.8,1368.8 1569.4,1371.0 1570.0,1369.3 1570.8,1372.1 1571.4,1369.7 1572.0,1372.5 1572.8,1369.3 1573.4,1368.9 1574.1,1370.3 1574.9,1369.5 1575.5,1368.9 1576.2,1367.0 1577.0,1370.6 1577.7,1374.2 1578.5,1371.9 1579.2,1369.0 1580.0,1371.2 1580.7,1373.1 1581.5,1371.3 1582.3,1373.1 1583.1,1375.8 1583.8,1377.0 1584.4,1370.1 1585.1,1372.3 1585.7,1374.5 1586.3,1373.3 1587.0,1375.0 1587.7,1374.6 1588.5,1369.9 1589.2,1369.8 1590.0,1365.5 1590.7,1368.8 1591.5,1368.7 1592.2,1371.0 1593.0,1370.4 1593.8,1373.8 1594.4,1367.1 1595.3,1372.1 1595.9,1370.2 1596.8,1374.7 1597.5,1371.2 1598.3,1374.1 1599.0,1371.9 1599.8,1373.6 1600.5,1372.4 1601.2,1375.0 1602.1,1372.9 1602.7,1369.6 1603.5,1374.7 1604.2,1372.4 1605.0,1372.5 1605.7,1375.1 1606.5,1375.9 1607.3,1373.8 1608.1,1380.0 1608.8,1381.2 1609.5,1377.0 1610.2,1379.6 1611.0,1376.1 1611.7,1373.4 1612.5,1372.5 1613.3,1375.4 1614.0,1376.2 1614.7,1374.8 1615.5,1377.5 1616.2,1381.5 1616.7,1379.0 1617.4,1374.8 1618.1,1380.9 1618.8,1383.0 1619.5,1379.6 1620.3,1376.2 1620.9,1379.3 1621.7,1377.6 1622.5,1375.0 1623.3,1379.8 1624.0,1379.6 1624.7,1375.3 1625.5,1374.3 1626.2,1377.5 1626.9,1372.8 1627.5,1374.7 1628.2,1375.6 1628.9,1376.0 1629.5,1373.8 1630.2,1376.0 1631.0,1378.1 1631.5,1378.0 1632.3,1380.3 1633.0,1380.0 1633.6,1376.6 1634.3,1377.8 1635.0,1373.4 1635.7,1378.2 1636.3,1375.1 1637.0,1379.5 1637.7,1378.2 1638.4,1375.0 1639.1,1377.2 1639.8,1377.0 1640.5,1377.0 1641.2,1372.5 1641.9,1377.5 1642.6,1375.2 1643.2,1374.8 1643.8,1375.1 1644.5,1380.5 1645.3,1376.8 1646.0,1375.5 1646.7,1375.4 1647.5,1375.5 1648.3,1378.5 1649.1,1379.8 1649.7,1376.8 1650.5,1377.9 1651.2,1380.0 1652.0,1383.6 1652.5,1382.2 1653.1,1383.3 1653.8,1381.8 1654.5,1384.5 1655.2,1381.0 1655.9,1377.8 1656.6,1379.7 1657.4,1380.6 1658.0,1377.0 1658.7,1379.1 1659.3,1379.6 1660.0,1374.5 1660.6,1379.2 1661.2,1380.0 1662.0,1378.4 1662.8,1377.2 1663.5,1381.4 1664.3,1383.6 1665.0,1376.2 1665.7,1378.8 1666.2,1382.1 1666.9,1383.3 1667.5,1381.2 1668.3,1380.7 1669.0,1385.1 1669.8,1384.9 1670.5,1387.5 1671.1,1380.8 1671.8,1383.9 1672.4,1379.4 1673.2,1377.5 1673.8,1378.0 1674.5,1379.3 1675.3,1381.6 1676.0,1380.8 1676.7,1380.6 1677.5,1382.5 1678.1,1381.3 1678.7,1377.9 1679.3,1378.9 1680.0,1376.2 1680.8,1375.5 1681.6,1378.5 1682.2,1381.6 1683.0,1381.2 1683.6,1379.7 1684.3,1382.6 1684.9,1378.9 1685.6,1380.2 1686.2,1385.0 1686.5,1385.0 1687.2,1383.1 1687.9,1379.2 1688.5,1384.1 1689.1,1381.2 1689.8,1388.8 1690.6,1384.4 1691.3,1386.3 1691.9,1383.4 1692.7,1382.5 1693.5,1380.0 1694.2,1380.3 1695.0,1383.4 1695.7,1383.3 1696.5,1376.2 1697.2,1385.3 1697.8,1382.7 1698.5,1381.6 1699.2,1379.6 1699.8,1389.5 1700.3,1380.9 1701.0,1382.1 1701.7,1381.2 1702.3,1384.4 1703.0,1380.0 1703.8,1380.6 1704.5,1382.1 1705.3,1383.0 1706.0,1386.2 1706.7,1379.6 1707.5,1382.4 1708.3,1381.4 1708.9,1379.7 1709.8,1378.8 1710.5,1384.0 1711.2,1385.8 1712.1,1383.6 1712.7,1382.5 1713.5,1386.2 1714.2,1383.9 1715.0,1383.9 1715.7,1384.4 1716.5,1378.0 1717.1,1380.9 1717.7,1379.5 1718.4,1378.2 1719.0,1383.8 1719.8,1383.8 1720.4,1381.7 1721.0,1386.5 1721.8,1381.0 1722.3,1387.1 1723.0,1387.5 1723.8,1387.8 1724.6,1382.4 1725.3,1390.0 1726.0,1382.5 1726.8,1382.9 1727.4,1385.6 1728.3,1384.0 1729.1,1388.3 1729.8,1393.0 1730.5,1383.4 1731.0,1387.1 1731.8,1385.4 1732.4,1384.6 1733.0,1385.0 1733.7,1384.2 1734.4,1385.5 1735.2,1388.7 1735.8,1386.6 1736.5,1381.2 1737.1,1384.4 1737.8,1384.1 1738.5,1382.4 1739.2,1387.7 1739.9,1384.9 1740.5,1387.5 1741.2,1388.8 1741.9,1383.1 1742.7,1385.8 1743.3,1388.6 1744.0,1386.2 1744.6,1383.1 1745.3,1385.3 1746.0,1387.7 1746.6,1387.9 1747.2,1390.5 1748.0,1388.3 1748.8,1388.1 1749.5,1388.2 1750.3,1385.1 1751.0,1383.8 1751.8,1387.8 1752.6,1382.8 1753.2,1391.3 1754.0,1385.9 1754.8,1390.0 1755.5,1387.4 1756.2,1388.9 1757.0,1385.8 1757.7,1389.0 1758.5,1386.2 1759.3,1386.6 1759.9,1388.2 1760.8,1387.8 1761.5,1383.8 1762.1,1388.3 1762.8,1388.0 1763.4,1387.8 1764.1,1387.3 1764.8,1390.5 1765.5,1388.6 1766.3,1385.6 1767.0,1385.3 1767.8,1386.0 1768.5,1383.8 1769.1,1386.5 1769.8,1387.8 1770.4,1386.5 1771.1,1383.9 1771.8,1382.5 1772.6,1386.9 1773.3,1387.9 1774.0,1384.0 1774.8,1390.5 1775.5,1384.6 1776.2,1388.7 1777.1,1385.5 1777.7,1386.1 1778.5,1391.2 1779.2,1384.4 1780.0,1384.8 1780.7,1385.3 1781.5,1383.8 1782.1,1385.0 1782.8,1382.2 1783.4,1387.7 1784.1,1385.2 1784.8,1388.8 1785.5,1384.9 1786.3,1383.2 1787.1,1383.6 1787.8,1386.5 1788.5,1383.8 1789.2,1386.6 1789.9,1387.9 1790.8,1389.3 1791.5,1384.8 1792.2,1387.5 1793.0,1389.7 1793.8,1386.9 1794.4,1386.7 1795.2,1386.1 1796.0,1390.5 1796.7,1390.7 1797.5,1392.5 1798.2,1385.7 1799.0,1390.6 1799.8,1392.0 1800.4,1389.6 1801.3,1388.7 1801.9,1392.8 1802.7,1387.3 1803.5,1385.0 1804.2,1388.1 1805.0,1388.4 1805.8,1388.5 1806.5,1393.0 1807.2,1387.4 1807.8,1388.5 1808.5,1385.8 1809.0,1388.4 1809.8,1386.2 1810.5,1386.9 1811.3,1390.3 1812.0,1389.6 1812.8,1386.5 1813.5,1389.5 1814.3,1390.3 1815.0,1386.3 1815.7,1389.0 1816.6,1389.8 1817.2,1390.5 1817.9,1388.6 1818.6,1388.7 1819.4,1389.2 1820.1,1383.9 1820.8,1388.5 1821.5,1388.5 1822.2,1384.5 1823.0,1388.2 1823.5,1389.2 1824.2,1388.8 1824.9,1388.1 1825.5,1391.2 1826.2,1389.6 1826.7,1386.5 1827.4,1388.2 1828.0,1395.0 1828.8,1388.9 1829.5,1388.0 1830.1,1388.0 1830.8,1387.8 1831.6,1393.7 1832.2,1386.2 1833.0,1387.9 1833.6,1387.1 1834.2,1388.2 1834.8,1389.6 1835.5,1391.2 1836.2,1389.3 1837.1,1389.4 1837.8,1391.5 1838.5,1385.0 1839.1,1388.0 1839.7,1391.2 1840.4,1386.7 1841.0,1383.8 1841.6,1389.1 1842.3,1392.0 1842.9,1391.8 1843.5,1396.2 1844.2,1390.8 1845.0,1394.8 1845.7,1389.5 1846.4,1392.5 1847.2,1390.0 1848.1,1388.3 1848.7,1394.5 1849.5,1389.5 1850.3,1392.2 1851.0,1393.8 1851.6,1388.9 1852.3,1392.3 1852.9,1391.0 1853.5,1392.3 1854.2,1387.5 1855.1,1388.0 1855.8,1393.1 1856.6,1389.0 1857.2,1389.7 1858.0,1391.2 1858.8,1390.5 1859.4,1394.0 1860.2,1390.8 1861.0,1396.2 1861.8,1390.4 1862.5,1387.2 1863.3,1390.6 1863.9,1386.8 1864.8,1387.5 1865.5,1389.6 1866.1,1390.4 1866.9,1390.6 1867.6,1394.6 1868.3,1392.7 1869.0,1385.5 1869.6,1391.7 1870.2,1395.7 1870.9,1389.3 1871.6,1394.5 1872.2,1392.5 1873.1,1391.9 1874.0,1398.0 1874.7,1395.6 1875.3,1393.0 1875.9,1393.5 1876.6,1391.8 1877.2,1390.0 1878.0,1388.1 1878.7,1393.2 1879.5,1393.8 1880.3,1390.8 1881.0,1394.5 1881.7,1392.0 1882.5,1388.2 1883.2,1391.7 1884.0,1391.3 1884.8,1389.5 1885.5,1391.7 1886.3,1392.8 1887.0,1389.9 1887.7,1389.7 1888.5,1385.5 1889.3,1393.0 1890.1,1388.9 1890.8,1388.9 1891.5,1393.8 1892.3,1391.6 1893.0,1393.6 1893.7,1387.0 1894.5,1392.4 1895.2,1389.5 1895.9,1389.5 1896.6,1390.4 1897.2,1392.9 1897.8,1394.1 1898.5,1391.2 1899.3,1390.7 1899.9,1394.1 1900.8,1392.8 1901.5,1395.5 1902.2,1392.8 1902.9,1393.1 1903.5,1390.7 1904.1,1392.4 1904.8,1390.0 1905.4,1393.0 1906.0,1391.9 1906.7,1386.0 1907.4,1388.7 1908.0,1385.5 1908.7,1388.7 1909.5,1393.5 1910.1,1390.5 1910.9,1388.1 1911.5,1391.2 1912.2,1387.3 1912.9,1391.3 1913.4,1393.2 1914.1,1393.0 1914.8,1396.7 1915.5,1397.0 1916.3,1390.7 1917.0,1395.2 1917.7,1394.2 1918.5,1388.8 1919.3,1391.5 1919.9,1393.0 1920.8,1392.5 1921.4,1391.4 1922.2,1393.8 1923.0,1392.1 1923.8,1394.1 1924.4,1391.4 1925.3,1387.6 1926.0,1389.5 1926.8,1392.1 1927.5,1395.0 1928.2,1394.0 1929.1,1393.3 1929.8,1393.8 1930.3,1387.6 1931.0,1393.9 1931.7,1391.7 1932.4,1395.5 1933.0,1390.0 1933.7,1387.9 1934.3,1392.1 1935.1,1393.3 1935.7,1394.5 1936.5,1396.2 1937.2,1395.7 1937.9,1392.3 1938.6,1391.2 1939.1,1392.3 1939.9,1391.3 1940.5,1396.2 1941.3,1393.1 1942.0,1393.7 1942.6,1391.0 1943.3,1394.0 1944.0,1394.5 1944.7,1396.6 1945.3,1394.1 1945.9,1397.2 1946.6,1396.3 1947.2,1390.0 1948.0,1391.2 1948.8,1392.8 1949.5,1392.6 1950.3,1392.7 1951.0,1395.5 1951.8,1392.2 1952.5,1394.2 1953.2,1392.0 1953.9,1393.3 1954.8,1392.5 1955.5,1392.4 1956.3,1389.9 1957.1,1390.2 1957.7,1393.8 1958.5,1390.0 1959.1,1397.2 1959.7,1397.4 1960.4,1392.0 1961.0,1397.5"/>
<polyline id="black" stroke="#000000" points="232.0,937.5 232.6,934.8 233.4,936.7 234.1,940.6 234.8,935.3 235.4,929.1 236.1,938.3 236.9,925.4 237.5,935.0 238.1,917.5 238.8,933.2 239.3,929.7 240.0,930.0 240.6,910.8 241.3,903.5 242.0,905.0 242.8,907.6 243.8,896.2 244.4,894.1 245.0,908.3 245.8,896.2 246.3,894.9 247.0,898.8 248.0,882.5 248.7,886.0 249.3,884.8 250.0,868.8 250.7,878.7 251.6,885.2 252.2,877.0 253.0,870.0 253.6,879.2 254.3,874.5 255.0,886.2 255.6,866.1 256.2,863.8 256.8,857.1 257.5,847.5 258.1,852.1 258.7,846.1 259.4,856.1 260.0,840.0 260.6,836.2 261.2,833.8 262.1,833.5 263.0,838.8 263.7,830.3 264.5,825.0 265.1,826.8 265.7,828.0 266.4,823.1 267.0,827.5 267.5,812.5 268.2,812.0 268.8,823.6 269.3,813.2 270.0,808.8 270.6,812.0 271.2,797.5 271.9,806.2 272.4,803.6 273.2,794.7 273.8,818.8 274.3,797.7 275.0,768.8 275.8,782.9 276.5,779.6 277.2,782.2 278.0,788.8 278.7,777.2 279.4,772.8 280.0,785.0 280.7,769.3 281.3,767.5 281.9,758.6 282.5,742.5 283.2,755.5 284.0,748.0 284.8,741.6 285.5,761.2 286.2,750.4 287.0,722.5 287.7,735.5 288.4,733.4 289.3,731.6 290.0,750.0 290.6,730.7 291.3,721.0 291.9,721.2 292.5,696.2 293.1,720.5 293.8,718.7 294.4,712.3 295.0,735.0 295.6,704.5 296.3,719.7 296.9,725.4 297.5,698.8 298.3,707.2 299.0,728.8 299.8,710.8 300.5,717.0 301.2,693.8 302.1,707.1 303.0,711.2 303.7,700.2 304.2,682.0 304.8,678.7 305.5,672.5 306.1,695.6 306.7,672.2 307.3,673.8 308.0,690.0 308.6,669.8 309.3,678.8 309.9,677.7 310.5,675.0 310.8,647.5 311.5,662.2 312.3,660.8 313.0,649.4 313.8,637.5 314.3,646.9 315.0,633.8 315.5,628.0 316.2,613.8 316.9,623.9 317.6,619.8 318.2,632.5 319.1,615.9 320.0,588.8 320.6,613.6 321.3,603.4 321.9,613.0 322.5,622.5 323.1,596.7 323.8,567.5 324.5,575.9 325.0,577.6 325.7,573.2 326.2,587.5 327.2,567.4 328.0,537.5 328.6,558.8 329.4,549.4 330.0,561.2 330.9,550.3 331.8,540.0 332.3,555.4 333.1,561.4 333.8,583.8 334.6,563.7 335.5,545.0 336.2,566.8 336.8,544.0 337.5,531.2 338.3,560.5 339.0,562.1 339.8,588.8 340.8,550.0 341.3,568.4 342.0,608.8 342.8,584.7 343.8,566.2 344.3,599.3 345.1,607.8 345.7,605.5 346.2,597.5 347.2,617.6 348.0,640.0 348.7,613.7 349.3,614.1 350.0,582.5 350.8,615.0 351.8,612.5 352.4,630.9 353.2,611.8 353.8,640.0 354.6,630.2 355.5,652.5 356.2,637.1 357.0,612.5 357.8,647.2 358.8,655.0 359.6,648.1 360.5,671.2 361.2,664.8 362.0,655.0 362.9,660.7 363.8,681.2 364.6,667.6 365.5,658.8 366.2,673.5 366.9,666.0 367.5,697.5 368.1,666.7 368.8,679.8 369.5,658.8 370.2,681.4 370.7,682.4 371.4,677.9 372.0,695.0 373.0,665.0 373.7,693.4 374.2,674.2 374.9,677.8 375.5,693.8 376.2,684.8 377.0,708.8 377.7,691.3 378.2,671.2 379.0,699.2 380.0,687.5 380.6,691.2 381.2,699.0 381.8,700.1 382.5,702.5 383.3,707.9 384.2,728.8 385.0,718.0 385.7,709.1 386.3,716.1 387.0,727.5 387.6,717.3 388.2,713.1 388.9,710.7 389.5,695.0 390.3,724.0 391.2,722.5 392.1,731.2 393.0,747.5 393.7,741.4 394.4,731.4 395.0,723.8 395.7,733.2 396.5,730.0 397.2,735.3 398.0,723.8 398.7,745.2 399.3,748.6 400.0,758.8 400.7,744.1 401.4,741.7 402.0,742.5 402.6,732.5 403.4,734.4 404.0,742.5 404.8,740.1 405.5,730.0 406.2,740.1 406.9,749.4 407.5,766.2 408.3,758.6 409.0,758.2 409.8,765.2 410.5,745.0 411.2,761.4 411.8,762.6 412.5,758.8 413.1,760.1 413.8,765.0 414.4,777.2 415.0,785.0 415.7,761.9 416.3,760.0 417.0,769.6 417.5,780.0 418.1,764.9 418.9,769.1 419.5,746.2 420.2,762.4 420.7,761.8 421.3,767.5 422.0,765.0 422.7,762.9 423.3,764.4 424.1,768.6 424.8,761.7 425.5,778.8 426.1,768.2 426.9,767.6 427.6,758.4 428.2,750.0 429.1,759.5 429.7,761.7 430.5,780.0 431.2,767.1 431.8,766.6 432.5,771.1 433.1,770.1 433.8,763.8 434.6,767.4 435.5,791.2 436.1,790.1 436.8,774.2 437.5,777.7 438.2,770.9 438.8,771.2 439.5,780.1 440.5,796.2 441.2,784.7 441.8,774.2 442.5,781.0 443.1,782.8 443.8,770.0 444.5,786.4 445.2,788.1 446.0,779.9 446.8,800.0 447.4,784.3 448.1,781.2 448.8,767.5 449.5,779.6 450.2,780.0 451.0,791.0 451.8,787.5 452.5,797.5 453.2,790.4 453.9,791.9 454.8,783.8 455.5,783.5 456.2,770.0 456.9,782.5 457.5,781.7 458.1,786.7 458.8,781.2 459.4,786.3 460.1,781.9 460.6,781.3 461.2,797.5 461.9,787.3 462.6,784.6 463.2,756.2 464.2,786.4 465.0,808.8 465.6,789.1 466.3,779.8 467.0,781.9 467.7,789.4 468.2,762.5 469.1,781.6 470.0,787.5 470.6,792.4 471.2,786.4 471.9,793.5 472.5,811.2 473.1,785.7 473.8,785.8 474.4,786.0 475.0,771.2 475.6,791.4 476.2,788.4 476.9,784.7 477.5,791.2 478.2,786.2 478.8,791.6 479.5,803.8 480.3,794.9 481.0,790.1 481.8,788.3 482.5,780.0 483.2,784.8 483.9,798.2 484.7,789.6 485.5,796.2 486.2,776.7 486.8,773.3 487.5,787.4 488.2,760.0 488.9,780.7 489.7,781.0 490.3,794.1 491.1,780.0 491.8,806.2 492.4,797.0 493.1,787.1 493.8,778.8 494.5,787.4 495.2,779.3 496.0,788.8 496.7,782.3 497.5,791.2 498.1,785.3 498.7,774.8 499.4,788.0 500.0,782.5 500.8,782.0 501.5,785.0 502.2,780.5 503.0,777.4 503.8,768.8 504.4,774.2 505.1,771.5 505.7,771.3 506.3,768.3 507.0,757.0 507.8,766.6 508.8,786.2 509.4,783.0 510.0,766.9 510.6,770.1 511.2,772.5 511.8,781.7 512.5,773.4 513.1,775.7 513.8,782.5 514.6,781.9 515.2,780.9 516.0,772.4 516.8,762.5 517.4,775.6 518.1,767.6 518.8,763.4 519.5,757.0 520.3,770.7 521.0,757.1 521.8,770.5 522.5,780.0 523.2,771.4 523.9,773.9 524.7,766.7 525.5,781.2 526.3,758.1 526.9,765.0 527.5,754.7 528.2,752.5 529.0,768.1 529.8,770.0 530.4,773.6 531.2,772.5 531.9,762.6 532.6,751.1 533.2,752.0 533.9,757.4 534.5,741.2 535.1,756.9 535.7,748.9 536.4,760.5 537.0,763.8 537.7,743.2 538.6,750.3 539.2,749.1 540.0,737.5 540.7,743.3 541.2,752.2 541.8,742.3 542.5,756.2 543.1,741.7 543.8,738.7 544.4,743.7 545.0,722.5 545.6,737.0 546.2,749.1 546.9,729.8 547.5,755.0 548.1,739.5 548.8,731.4 549.3,729.5 550.0,718.8 550.7,728.2 551.3,714.8 552.0,725.8 552.5,719.6 553.2,693.8 554.0,727.9 554.7,714.9 555.5,706.2 556.2,733.8 557.1,714.4 558.0,700.0 558.6,716.7 559.3,706.8 559.8,705.3 560.5,730.0 561.1,704.5 561.7,724.8 562.3,708.9 563.0,698.8 563.6,709.5 564.2,710.1 564.9,713.8 565.6,713.3 566.2,693.0 566.9,701.5 567.5,711.7 568.2,714.7 568.8,723.8 569.4,721.8 570.1,707.3 570.7,707.8 571.4,722.1 572.0,705.0 572.6,719.3 573.3,717.9 573.9,723.3 574.5,731.2 575.1,728.8 575.7,726.8 576.4,737.5 577.0,720.0 577.7,729.1 578.2,730.6 578.9,717.3 579.5,742.5 580.3,731.1 581.2,708.8 581.8,722.5 582.5,726.5 583.1,726.4 583.8,706.2 584.5,723.9 585.3,725.4 585.9,735.1 586.8,756.2 587.4,735.3 588.1,746.2 588.8,721.2 589.5,746.6 590.3,750.6 590.9,730.4 591.8,748.9 592.5,728.8 593.2,739.7 593.8,739.3 594.5,757.5 595.2,756.5 596.0,750.2 596.8,751.5 597.5,771.2 598.2,761.3 598.7,752.3 599.3,761.7 600.0,752.5 600.7,770.9 601.2,764.1 601.9,764.1 602.5,772.5 603.2,762.6 603.9,760.5 604.5,764.5 605.1,759.9 605.8,750.0 606.3,775.7 607.0,782.5 607.7,763.2 608.5,767.3 609.3,770.6 610.0,767.5 610.8,763.2 611.5,767.7 612.3,781.5 613.0,756.2 613.6,767.8 614.3,772.8 614.9,770.0 615.6,771.8 616.2,785.0 617.0,773.0 618.0,788.8 618.7,775.0 619.4,776.0 620.1,778.0 620.8,750.0 621.5,763.5 622.3,770.5 623.0,775.0 623.7,759.9 624.4,770.7 625.0,741.2 625.7,756.5 626.4,757.5 627.3,760.1 628.0,757.9 628.8,780.0 629.4,767.1 630.3,765.2 631.0,771.0 631.8,745.0 632.4,760.0 633.1,757.9 633.7,758.9 634.4,770.7 635.0,775.0 635.8,756.0 636.5,770.8 637.2,777.4 638.0,765.0 638.6,773.0 639.3,769.4 639.8,771.7 640.5,781.2 641.1,777.6 641.9,771.0 642.5,771.2 643.1,783.8 643.8,791.8 644.5,800.0 645.4,795.7 646.2,778.8 646.9,797.5 647.4,804.0 648.1,784.7 648.8,805.0 649.3,803.0 650.0,786.2 650.7,792.1 651.2,794.9 651.8,797.7 652.5,808.8 653.3,787.0 654.0,793.5 654.8,786.6 655.5,796.1 656.2,775.0 656.9,791.3 657.5,799.6 658.2,782.5 658.8,807.5 659.4,794.9 660.1,792.1 660.7,797.7 661.4,799.0 662.0,783.8 662.7,794.7 663.5,793.8 664.2,794.0 665.0,803.8 665.7,807.1 666.6,804.6 667.3,808.3 668.0,797.5 668.6,792.9 669.4,803.0 670.0,811.2 670.7,805.8 671.5,798.7 672.3,811.2 672.9,807.0 673.8,810.0 674.4,808.6 675.0,795.2 675.7,802.7 676.2,783.8 676.9,807.5 677.6,797.7 678.2,823.8 678.9,805.1 679.8,804.6 680.5,809.0 681.2,825.0 681.9,804.5 682.5,810.0 683.1,807.5 683.8,797.5 684.5,806.6 685.1,809.8 685.7,815.7 686.2,820.0 686.8,820.7 687.5,807.8 688.2,808.2 688.8,802.5 689.3,817.3 690.1,816.8 690.7,808.4 691.4,812.5 692.0,827.5 692.9,805.7 693.8,793.8 694.4,818.0 695.0,803.0 695.5,809.9 696.2,815.0 696.9,810.2 697.5,815.8 698.2,808.6 698.9,815.7 699.5,793.8 700.4,805.4 701.2,826.2 701.9,808.4 702.6,821.9 703.3,818.5 703.8,818.4 704.5,832.5 705.4,817.2 706.2,796.2 706.9,805.4 707.5,813.3 708.1,811.4 708.8,828.8 709.3,808.5 710.0,817.2 710.6,803.2 711.2,788.8 711.9,804.8 712.5,811.0 713.3,800.0 713.8,806.9 714.5,827.5 715.3,820.9 716.2,805.0 717.2,826.0 718.0,837.5 718.7,821.3 719.3,814.2 719.9,817.5 720.6,817.4 721.2,825.0 721.8,812.1 722.5,812.8 723.1,809.7 723.8,792.5 724.6,818.0 725.5,832.5 726.2,820.0 726.9,822.8 727.5,833.8 728.3,816.1 729.1,818.9 729.8,819.2 730.5,796.2 731.2,809.0 731.8,811.5 732.5,835.0 733.2,823.8 733.8,814.0 734.4,819.7 735.0,798.8 735.6,822.5 736.3,817.8 736.9,828.0 737.5,835.0 738.3,829.5 739.0,823.9 739.8,828.2 740.6,825.4 741.2,812.5 741.8,821.8 742.5,826.9 743.1,822.8 743.8,835.0 744.4,824.8 745.0,815.2 745.7,826.0 746.2,822.5 747.0,824.4 747.7,831.2 748.5,835.0 749.3,826.1 750.1,832.0 750.8,813.8 751.5,836.1 752.2,836.9 752.8,828.9 753.6,820.3 754.2,840.0 754.9,820.6 755.5,813.4 756.2,807.5 757.2,815.5 758.0,825.0 758.7,822.4 759.4,815.4 760.0,796.2 760.8,818.7 761.5,814.2 762.3,822.2 763.0,823.3 763.8,837.5 764.3,818.6 765.0,825.3 765.7,819.5 766.2,822.5 767.0,806.7 767.7,827.2 768.4,827.1 769.2,797.5 770.0,820.3 770.6,818.6 771.2,838.8 771.9,832.0 772.8,822.3 773.6,823.7 774.2,812.5 774.9,824.8 775.4,832.0 776.1,828.8 776.8,837.5 777.4,827.2 778.1,824.0 778.6,828.5 779.4,827.1 780.0,822.5 780.8,833.4 781.6,824.5 782.2,817.9 783.0,825.7 783.8,813.8 784.4,823.7 785.1,823.3 785.7,826.0 786.3,828.5 787.0,837.5 787.7,824.2 788.5,814.4 789.2,826.9 790.0,820.0 790.8,819.9 791.6,826.4 792.2,825.6 792.9,835.1 793.8,815.0 794.4,821.5 795.0,825.4 795.6,830.3 796.2,833.8 797.0,825.9 797.7,826.5 798.5,823.2 799.2,823.7 800.0,807.5 800.7,818.7 801.3,823.3 801.9,823.7 802.5,822.5 803.1,827.3 803.8,828.9 804.4,836.6 805.0,853.8 805.8,845.5 806.5,842.7 807.3,836.7 808.0,840.0 808.8,830.7 809.4,842.1 810.3,826.6 811.0,825.0 811.7,846.0 812.4,837.8 813.0,831.6 813.6,841.4 814.2,853.8 814.9,843.9 815.5,841.8 816.2,839.4 816.9,844.2 817.5,836.2 818.2,844.6 819.0,840.7 819.8,840.9 820.5,855.0 821.1,841.5 821.8,853.7 822.5,837.5 823.2,845.8 824.0,843.2 824.7,840.7 825.5,831.2 826.2,836.6 826.8,839.9 827.5,841.2 828.2,847.4 828.7,845.6 829.4,848.9 830.0,856.2 830.7,845.4 831.2,828.8 832.0,842.7 832.8,835.4 833.5,834.2 834.2,844.3 835.0,853.8 835.7,845.1 836.3,848.9 837.0,836.2 837.8,844.8 838.4,840.0 839.3,849.6 840.0,857.5 840.7,860.3 841.3,851.9 841.9,845.5 842.5,868.8 843.4,856.5 844.2,833.8 844.9,847.7 845.5,855.5 846.3,851.2 846.8,851.8 847.5,845.0 848.2,852.9 849.1,847.5 849.7,858.3 850.5,871.2 851.1,865.4 851.8,856.2 852.4,868.7 853.1,865.8 853.8,852.5 854.3,863.6 855.0,865.2 855.6,865.5 856.2,876.2 856.9,850.6 857.5,838.8 858.2,858.1 858.8,864.3 859.3,860.7 860.0,871.2 860.7,860.0 861.4,854.6 862.2,869.4 863.1,865.0 863.8,851.2 864.6,868.3 865.3,872.2 866.0,873.5 866.8,882.5 867.5,864.7 868.0,861.9 868.8,860.0 869.3,862.0 870.0,852.5 870.7,867.0 871.5,863.6 872.3,863.3 873.1,871.1 873.8,873.8 874.6,860.4 875.5,836.2 876.1,856.8 876.8,851.0 877.3,862.5 878.0,875.0 878.8,868.2 879.6,855.2 880.2,865.3 881.0,861.5 881.7,852.3 882.5,847.5 883.3,855.8 884.0,867.9 884.8,857.1 885.5,859.3 886.2,880.0 886.8,866.0 887.6,867.4 888.2,874.9 888.8,852.5 889.4,866.2 890.0,863.0 890.7,857.3 891.2,870.0 891.9,864.1 892.6,847.2 893.2,856.4 893.8,854.4 894.5,844.5 895.2,857.5 895.9,859.0 896.7,857.7 897.5,867.5 898.1,862.1 898.8,847.5 899.4,865.6 900.0,880.0 900.8,878.4 901.5,866.4 902.2,879.2 903.0,860.0 903.6,868.2 904.3,879.7 905.0,873.4 905.6,874.8 906.2,883.8 907.0,871.6 907.7,882.0 908.5,882.6 909.3,875.5 910.0,896.2 910.6,878.5 911.2,855.0 911.9,868.0 912.5,876.1 913.2,864.4 913.8,876.2 914.4,873.2 915.0,865.9 915.6,869.4 916.2,856.2 916.9,873.1 917.6,866.3 918.3,863.5 918.9,859.1 919.5,856.2 920.4,873.1 921.2,890.0 921.9,882.0 922.8,883.3 923.5,882.5 924.2,891.2 925.0,878.3 925.7,872.5 926.2,861.2 926.8,879.4 927.6,879.4 928.1,870.0 928.8,875.0 929.4,864.2 930.0,878.5 930.7,871.1 931.2,893.8 931.8,875.8 932.7,870.8 933.2,851.2 934.0,881.6 934.7,878.6 935.5,870.0 936.2,887.5 937.1,875.9 938.0,871.2 938.7,872.2 939.3,874.7 939.9,872.3 940.5,891.2 941.1,886.0 941.8,874.5 942.5,882.6 943.2,872.5 943.8,893.8 944.4,870.5 945.0,881.8 945.6,877.7 946.2,861.2 946.9,878.2 947.5,880.4 948.1,870.7 948.8,892.5 949.4,883.8 950.0,889.1 950.7,872.4 951.3,872.1 952.0,899.5 952.9,866.3 953.8,853.8 954.4,868.7 955.0,869.8 955.6,866.1 956.2,876.2 956.9,869.8 957.4,871.4 958.1,876.3 958.8,887.5 959.3,878.1 960.1,879.7 960.7,864.8 961.3,867.5 962.0,863.8 962.7,866.9 963.5,876.3 964.2,876.6 965.0,880.0 965.7,873.0 966.6,867.9 967.3,876.4 968.0,890.0 968.6,874.4 969.2,878.9 969.9,869.6 970.5,867.5 971.2,872.3 971.9,866.8 972.5,853.8 973.4,862.6 974.2,883.8 974.9,875.5 975.8,842.5 976.5,859.6 977.3,860.5 978.0,886.2 978.6,868.7 979.3,869.6 979.8,854.6 980.5,872.5 981.2,862.1 981.8,870.6 982.4,866.0 983.0,845.0 983.7,860.8 984.3,854.9 985.0,885.0 985.6,856.4 986.2,868.7 986.9,870.8 987.5,857.5 988.2,866.3 989.0,874.8 989.8,872.9 990.6,876.0 991.2,851.2 991.9,876.7 992.6,881.2 993.2,902.5 993.9,881.0 994.5,871.3 995.2,871.8 995.8,857.5 996.4,874.5 997.3,867.4 998.0,851.2 998.6,876.4 999.4,873.5 1000.0,892.5 1000.7,872.3 1001.4,876.1 1002.0,853.8 1002.6,871.2 1003.3,874.9 1003.9,868.3 1004.5,883.8 1005.3,861.6 1005.9,871.8 1006.6,867.4 1007.4,861.4 1008.0,855.0 1008.6,863.4 1009.2,871.7 1009.9,874.0 1010.5,878.8 1011.1,870.7 1011.8,864.6 1012.4,869.1 1013.1,871.3 1013.8,862.5 1014.5,866.2 1015.2,862.2 1016.1,862.6 1016.8,851.2 1017.4,862.0 1018.0,866.1 1018.8,865.0 1019.6,868.3 1020.5,886.2 1021.1,871.8 1021.8,871.9 1022.4,864.5 1023.0,852.0 1023.8,872.6 1024.5,892.5 1025.3,874.7 1025.9,876.0 1026.7,878.2 1027.5,872.5 1028.1,874.9 1028.7,877.3 1029.4,880.1 1030.0,875.0 1030.6,877.8 1031.3,882.2 1031.9,890.1 1032.5,891.2 1033.3,874.2 1034.1,867.9 1034.8,887.3 1035.4,874.7 1036.2,882.5 1036.9,870.1 1037.6,868.8 1038.2,868.5 1038.8,856.2 1039.3,858.6 1039.9,877.9 1040.6,865.8 1041.2,881.2 1041.9,865.8 1042.5,867.5 1043.2,868.4 1043.8,866.7 1044.5,863.8 1045.2,870.0 1045.9,877.5 1046.8,857.5 1047.3,874.0 1048.0,897.5 1048.6,874.9 1049.3,870.7 1049.9,877.6 1050.6,873.7 1051.2,862.5 1052.0,875.5 1052.8,873.3 1053.4,877.0 1054.2,878.2 1055.0,880.0 1055.7,873.0 1056.5,877.1 1057.2,879.8 1058.0,888.8 1058.7,877.6 1059.4,883.6 1060.0,861.2 1060.7,866.3 1061.4,870.8 1062.2,886.2 1063.0,891.2 1063.6,882.5 1064.4,878.6 1065.0,883.0 1065.6,880.3 1066.2,863.8 1066.9,877.7 1067.5,880.0 1068.2,880.8 1068.9,884.4 1069.5,893.8 1070.3,883.1 1071.0,885.6 1071.7,884.4 1072.5,885.0 1073.1,878.6 1073.8,887.6 1074.4,878.1 1075.0,876.2 1075.6,885.8 1076.2,890.5 1076.9,870.7 1077.5,867.5 1078.3,886.1 1079.1,873.3 1079.7,884.5 1080.5,896.2 1081.1,881.9 1081.7,871.4 1082.4,883.3 1083.2,881.5 1083.8,858.0 1084.3,873.4 1085.1,883.3 1085.6,882.3 1086.2,862.5 1086.9,886.8 1087.6,892.8 1088.2,907.5 1089.1,885.6 1089.7,879.2 1090.5,889.8 1091.2,866.2 1091.9,876.9 1092.7,891.1 1093.2,910.0 1093.9,896.9 1094.8,888.2 1095.5,884.7 1096.2,890.0 1096.9,886.6 1097.8,890.9 1098.4,890.5 1099.2,889.4 1100.0,887.5 1100.7,894.7 1101.3,897.2 1102.0,902.5 1103.0,885.0 1103.7,895.0 1104.3,896.2 1104.9,900.5 1105.5,887.4 1106.2,901.2 1107.0,888.4 1107.5,883.3 1108.2,872.5 1109.0,886.0 1109.7,888.8 1110.5,893.1 1111.2,902.5 1111.8,893.0 1112.5,903.9 1113.2,897.2 1113.8,893.8 1114.4,898.2 1115.2,888.1 1115.8,906.2 1116.5,895.0 1117.2,896.8 1118.1,900.3 1118.8,877.5 1119.4,895.3 1120.0,885.8 1120.6,887.0 1121.3,895.8 1122.0,871.2 1122.6,886.7 1123.2,891.5 1123.9,898.1 1124.5,910.0 1125.2,889.0 1126.0,890.9 1126.8,906.8 1127.5,913.8 1128.2,899.4 1128.8,900.9 1129.5,891.2 1130.1,910.7 1130.7,902.0 1131.4,899.4 1132.0,915.0 1132.7,902.5 1133.6,901.8 1134.3,904.4 1135.0,911.2 1135.6,899.8 1136.3,904.6 1136.9,907.1 1137.5,889.5 1138.2,900.3 1139.0,903.7 1139.7,906.5 1140.5,911.7 1141.2,927.0 1141.9,913.7 1142.5,916.9 1143.1,909.0 1143.8,900.0 1144.5,913.6 1145.2,899.5 1146.0,907.0 1146.7,918.7 1147.5,915.0 1148.3,914.8 1149.2,897.0 1150.0,911.0 1150.6,905.3 1151.3,909.1 1152.0,918.8 1152.8,908.3 1153.4,913.1 1154.3,905.8 1155.0,906.2 1155.6,920.7 1156.3,908.1 1157.0,921.2 1157.9,914.4 1158.8,901.2 1159.4,902.3 1160.0,911.6 1160.6,910.6 1161.2,923.8 1161.9,912.6 1162.6,920.3 1163.3,919.3 1163.8,914.0 1164.5,926.2 1165.2,918.6 1165.7,918.8 1166.3,907.3 1167.0,931.2 1167.8,917.4 1168.5,924.4 1169.3,916.0 1170.0,904.5 1170.7,921.9 1171.2,909.2 1171.9,915.4 1172.5,935.0 1173.1,924.7 1173.9,920.5 1174.5,925.8 1175.1,920.3 1175.8,935.0 1176.6,921.0 1177.5,913.8 1178.4,937.5 1179.2,951.2 1179.9,922.3 1180.5,937.3 1181.2,933.9 1181.8,921.9 1182.5,914.5 1183.1,929.4 1183.8,935.5 1184.4,932.9 1185.0,940.0 1185.6,935.9 1186.3,922.6 1186.8,928.0 1187.5,920.0 1188.1,933.3 1188.7,930.5 1189.3,930.9 1190.0,937.5 1190.6,937.6 1191.2,932.5 1191.9,934.5 1192.5,945.0 1193.1,932.3 1193.8,939.8 1194.3,946.2 1195.0,952.5 1195.7,952.4 1196.5,938.7 1197.2,945.0 1198.0,960.0 1198.8,943.6 1199.5,933.8 1200.1,951.1 1200.7,941.9 1201.4,951.5 1202.0,956.2 1202.8,952.1 1203.4,948.6 1204.3,934.8 1205.0,960.0 1205.7,950.7 1206.2,946.2 1207.0,945.1 1207.5,955.0 1208.1,942.1 1208.8,938.3 1209.5,922.5 1210.2,929.1 1210.8,939.8 1211.3,940.1 1212.0,955.0 1212.8,945.5 1213.5,949.6 1214.2,942.4 1215.0,941.2 1215.7,940.7 1216.3,949.4 1217.0,963.8 1217.8,958.0 1218.6,950.0 1219.3,952.8 1220.0,933.8 1220.6,951.4 1221.3,945.6 1221.9,952.5 1222.5,968.8 1223.1,950.8 1223.7,949.8 1224.4,949.0 1225.0,938.8 1225.6,952.8 1226.3,954.7 1226.8,953.8 1227.5,966.2 1228.2,962.8 1228.8,959.5 1229.5,948.8 1230.1,954.0 1230.8,961.1 1231.3,963.4 1232.0,971.2 1232.6,961.7 1233.2,965.2 1233.9,966.8 1234.5,953.8 1235.1,965.7 1235.7,971.5 1236.4,958.9 1237.0,955.0 1237.9,968.5 1238.8,980.0 1239.4,975.1 1240.0,966.9 1240.6,979.2 1241.2,986.2 1242.0,976.8 1242.4,969.1 1243.2,975.7 1243.8,970.0 1244.4,977.8 1245.1,969.6 1245.6,974.4 1246.3,973.1 1247.0,961.2 1247.7,975.0 1248.5,969.8 1249.3,988.2 1250.0,991.2 1250.7,970.5 1251.5,979.6 1252.2,977.6 1253.0,971.2 1253.6,983.3 1254.3,981.8 1254.9,977.6 1255.7,986.0 1256.2,990.0 1256.9,973.9 1257.6,974.7 1258.3,979.8 1258.8,979.2 1259.5,972.0 1260.3,985.1 1261.2,991.2 1261.9,981.7 1262.5,972.7 1263.2,983.1 1263.9,980.1 1264.5,972.5 1265.5,979.7 1266.2,997.5 1266.8,982.5 1267.6,998.3 1268.1,998.2 1268.8,1002.2 1269.5,1006.2 1270.4,994.0 1271.2,985.0 1271.9,998.8 1272.5,997.5 1273.1,994.1 1273.8,981.2 1274.4,996.6 1274.9,988.6 1275.6,987.4 1276.2,992.5 1277.2,999.2 1278.0,1008.8 1278.7,996.6 1279.4,993.7 1280.0,996.6 1280.8,975.0 1281.5,996.4 1282.2,998.9 1283.0,1008.8 1283.7,994.3 1284.3,1008.5 1285.0,998.9 1285.7,1005.4 1286.3,998.4 1287.0,993.8 1287.6,1013.4 1288.3,1006.6 1288.9,1001.2 1289.5,1013.8 1290.2,996.6 1290.8,1008.4 1291.3,1018.1 1292.0,1017.0 1292.6,1013.5 1293.2,1002.8 1293.9,1010.5 1294.5,1001.2 1295.2,1004.2 1296.0,1018.5 1296.7,1004.9 1297.5,1013.8 1298.2,1007.7 1299.0,1011.9 1299.7,1018.1 1300.5,1008.2 1301.2,1006.2 1302.0,1016.2 1302.8,1011.0 1303.5,1007.2 1304.2,1022.5 1304.9,1008.5 1305.5,1016.8 1306.2,1013.4 1306.9,1009.1 1307.5,1005.5 1308.1,1009.8 1308.7,1012.5 1309.4,1017.8 1310.0,1026.2 1310.7,1013.7 1311.3,1019.4 1311.9,1023.2 1312.5,1015.0 1313.3,1021.9 1314.0,1025.4 1314.7,1019.4 1315.5,1026.0 1316.2,1017.5 1317.0,1028.7 1317.8,1019.8 1318.5,1022.8 1319.2,1035.0 1319.9,1029.8 1320.6,1024.4 1321.1,1023.7 1321.8,1022.5 1322.3,1030.9 1323.0,1024.7 1323.6,1028.8 1324.2,1010.5 1324.9,1033.8 1325.8,1047.5 1326.4,1032.7 1327.2,1035.5 1328.0,1030.6 1328.7,1041.2 1329.5,1025.0 1330.3,1034.8 1331.0,1047.7 1331.8,1048.0 1332.5,1055.0 1333.2,1048.3 1333.8,1033.6 1334.4,1049.6 1335.0,1030.0 1335.8,1039.3 1336.5,1031.8 1337.2,1040.0 1338.0,1052.5 1338.8,1042.1 1339.4,1048.7 1340.1,1045.9 1340.8,1031.2 1341.5,1041.4 1342.3,1038.7 1343.0,1055.0 1343.6,1038.4 1344.3,1037.6 1344.9,1038.1 1345.5,1030.0 1346.1,1037.7 1346.9,1038.4 1347.5,1036.9 1348.1,1040.0 1348.9,1043.6 1349.5,1049.5 1350.2,1048.6 1351.0,1035.9 1351.7,1042.9 1352.5,1037.5 1353.2,1044.9 1354.0,1041.3 1354.8,1040.1 1355.5,1051.2 1356.1,1051.5 1356.7,1039.4 1357.3,1043.5 1358.0,1035.0 1358.6,1036.8 1359.2,1048.6 1360.0,1044.7 1360.5,1049.4 1361.2,1057.5 1362.1,1057.1 1362.7,1054.1 1363.5,1058.4 1364.2,1046.1 1365.0,1061.2 1365.7,1054.2 1366.5,1053.0 1367.2,1045.3 1368.0,1052.4 1368.8,1050.0 1369.5,1054.3 1370.3,1056.4 1371.0,1061.1 1371.8,1059.2 1372.5,1055.0 1373.2,1058.7 1374.0,1053.2 1374.7,1055.9 1375.5,1067.0 1376.3,1060.2 1377.0,1054.2 1377.7,1061.5 1378.4,1051.4 1379.2,1045.0 1379.9,1059.4 1380.7,1062.1 1381.3,1057.7 1382.0,1071.2 1382.6,1063.9 1383.4,1056.3 1384.1,1063.7 1384.8,1064.6 1385.5,1050.5 1386.2,1053.9 1386.9,1064.6 1387.4,1065.2 1388.2,1065.5 1388.8,1073.8 1389.3,1057.7 1390.0,1069.2 1390.6,1060.9 1391.2,1053.8 1391.9,1067.5 1392.5,1062.7 1393.1,1069.6 1393.8,1076.2 1394.4,1063.2 1395.1,1064.2 1395.7,1061.2 1396.2,1052.5 1397.0,1064.3 1397.7,1064.1 1398.4,1061.8 1399.2,1082.5 1399.8,1061.4 1400.5,1066.2 1401.2,1076.1 1401.9,1074.2 1402.5,1085.0 1403.4,1069.6 1404.2,1060.0 1404.8,1072.2 1405.5,1069.3 1406.2,1071.9 1406.8,1075.8 1407.5,1080.0 1408.1,1064.3 1408.8,1072.4 1409.3,1079.2 1410.0,1065.0 1410.8,1070.3 1411.5,1075.6 1412.2,1086.0 1413.0,1077.1 1413.8,1091.2 1414.3,1076.1 1415.1,1072.7 1415.5,1072.0 1416.2,1067.5 1417.0,1084.9 1417.5,1078.3 1418.2,1070.8 1418.9,1080.9 1419.5,1066.2 1420.1,1075.7 1420.8,1071.1 1421.3,1065.6 1422.0,1081.2 1422.8,1063.2 1423.6,1067.0 1424.3,1081.3 1425.0,1059.5 1425.7,1073.7 1426.4,1077.8 1427.2,1075.9 1428.0,1083.8 1428.7,1083.0 1429.2,1083.9 1429.9,1086.1 1430.6,1081.8 1431.2,1096.2 1432.1,1085.5 1433.0,1075.0 1433.7,1079.2 1434.4,1081.8 1435.0,1079.3 1435.6,1077.3 1436.2,1090.0 1436.9,1080.1 1437.5,1085.2 1438.1,1089.5 1438.8,1076.2 1439.5,1081.8 1440.2,1092.9 1440.9,1091.4 1441.8,1097.0 1442.4,1093.0 1443.0,1085.6 1443.7,1083.1 1444.4,1087.8 1445.0,1090.0 1445.8,1084.7 1446.6,1081.2 1447.2,1097.5 1448.0,1082.5 1448.7,1088.7 1449.3,1088.1 1449.9,1092.8 1450.6,1090.7 1451.2,1093.8 1451.9,1082.6 1452.5,1087.8 1453.2,1095.0 1453.8,1091.5 1454.5,1100.0 1455.4,1096.3 1456.2,1086.2 1456.9,1099.3 1457.5,1090.4 1458.1,1089.7 1458.8,1106.2 1459.4,1106.2 1460.0,1101.2 1460.7,1088.8 1461.3,1093.5 1462.0,1090.0 1462.7,1089.6 1463.4,1102.1 1464.1,1102.4 1464.8,1093.4 1465.5,1101.5 1466.2,1112.0 1466.9,1106.3 1467.7,1098.0 1468.5,1098.6 1469.3,1100.5 1470.0,1087.0 1470.6,1094.7 1471.2,1105.4 1471.9,1096.1 1472.5,1107.5 1473.2,1096.5 1473.9,1100.3 1474.8,1102.9 1475.5,1091.2 1476.2,1097.0 1476.9,1097.7 1477.5,1104.8 1478.1,1109.4 1478.8,1116.8 1479.4,1101.7 1480.0,1105.6 1480.6,1099.8 1481.3,1104.8 1482.0,1091.2 1482.8,1092.9 1483.6,1093.8 1484.3,1105.4 1485.0,1106.2 1485.7,1111.5 1486.3,1108.6 1487.0,1097.8 1487.6,1110.6 1488.2,1102.5 1489.0,1116.1 1489.7,1110.4 1490.6,1113.6 1491.2,1116.2 1492.1,1110.1 1493.0,1092.5 1493.6,1100.0 1494.3,1103.5 1494.8,1097.8 1495.5,1112.5 1496.1,1110.5 1496.7,1108.0 1497.4,1099.5 1498.0,1097.5 1498.7,1102.5 1499.4,1107.7 1500.0,1107.8 1500.7,1107.4 1501.2,1113.8 1502.0,1112.5 1502.7,1109.8 1503.5,1105.1 1504.2,1102.5 1504.9,1101.2 1505.6,1104.0 1506.3,1101.8 1507.0,1113.8 1507.7,1114.7 1508.5,1118.7 1509.2,1100.0 1510.1,1118.0 1510.8,1127.0 1511.6,1110.0 1512.2,1112.5 1513.1,1110.3 1513.8,1106.2 1514.4,1107.6 1515.0,1110.9 1515.7,1108.3 1516.2,1092.0 1517.0,1111.8 1517.6,1110.8 1518.2,1127.0 1519.0,1113.0 1519.7,1104.0 1520.4,1112.4 1521.2,1101.2 1521.9,1115.5 1522.6,1120.6 1523.2,1113.6 1523.9,1119.3 1524.5,1121.2 1525.2,1118.4 1526.0,1116.5 1526.7,1113.8 1527.5,1108.8 1528.3,1118.4 1529.0,1118.8 1529.7,1124.0 1530.5,1121.7 1531.3,1125.1 1532.0,1127.5 1532.8,1117.1 1533.4,1123.6 1534.3,1117.5 1535.0,1121.2 1535.6,1119.6 1536.3,1109.7 1536.8,1116.8 1537.5,1110.0 1538.2,1120.3 1538.7,1110.4 1539.4,1122.0 1540.0,1130.0 1540.7,1125.5 1541.5,1122.9 1542.2,1130.1 1543.0,1121.4 1543.8,1128.8 1544.6,1122.1 1545.3,1130.5 1546.0,1125.5 1546.8,1124.8 1547.5,1121.2 1548.2,1118.8 1549.1,1119.7 1549.7,1122.0 1550.4,1122.6 1551.2,1108.8 1552.1,1121.5 1552.8,1120.8 1553.4,1124.3 1554.2,1131.2 1554.9,1121.4 1555.6,1133.3 1556.2,1128.3 1556.9,1129.5 1557.5,1137.5 1558.3,1117.0 1559.0,1125.1 1559.7,1127.0 1560.5,1116.2 1561.2,1124.4 1561.8,1123.0 1562.4,1125.9 1563.1,1129.3 1563.8,1130.0 1564.4,1133.1 1565.1,1130.9 1565.6,1125.9 1566.2,1132.5 1566.9,1122.2 1567.7,1125.0 1568.4,1131.7 1569.1,1124.6 1569.8,1128.1 1570.6,1134.4 1571.2,1115.0 1572.1,1131.4 1573.0,1138.8 1573.7,1128.3 1574.3,1119.1 1575.0,1131.1 1575.7,1125.4 1576.4,1130.5 1577.0,1133.8 1577.7,1128.3 1578.5,1126.4 1579.3,1120.5 1579.9,1125.6 1580.8,1120.0 1581.5,1132.9 1582.3,1126.0 1582.9,1124.5 1583.7,1123.2 1584.5,1136.2 1585.2,1131.9 1585.8,1126.9 1586.6,1131.3 1587.3,1140.1 1588.0,1138.0 1588.6,1127.0 1589.3,1137.0 1589.9,1135.9 1590.6,1130.5 1591.2,1127.5 1591.9,1132.8 1592.6,1126.8 1593.1,1129.1 1593.8,1140.0 1594.5,1131.7 1595.2,1128.5 1596.0,1137.1 1596.7,1129.0 1597.5,1120.5 1598.2,1138.7 1598.8,1128.1 1599.5,1140.5 1600.2,1126.4 1600.8,1143.0 1601.6,1129.3 1602.5,1127.5 1603.2,1137.7 1604.0,1136.4 1604.8,1136.4 1605.4,1133.1 1606.2,1141.2 1606.9,1133.7 1607.5,1134.9 1608.2,1136.0 1608.8,1134.0 1609.5,1140.0 1610.2,1141.1 1610.9,1131.8 1611.6,1130.1 1612.3,1138.6 1613.0,1128.8 1613.6,1139.1 1614.2,1137.3 1614.9,1131.8 1615.5,1145.0 1616.2,1132.2 1616.8,1145.5 1617.5,1138.1 1618.1,1140.5 1618.8,1132.5 1619.5,1137.6 1620.2,1138.7 1620.9,1143.7 1621.7,1143.9 1622.5,1130.0 1623.2,1138.2 1623.8,1137.1 1624.4,1138.4 1625.0,1141.2 1625.8,1138.6 1626.5,1146.1 1627.2,1140.6 1628.0,1146.0 1628.8,1143.8 1629.3,1146.0 1630.1,1137.8 1630.6,1149.5 1631.2,1150.0 1631.9,1135.6 1632.6,1139.8 1633.2,1138.3 1633.8,1131.2 1634.5,1133.8 1635.2,1131.6 1636.0,1136.0 1636.7,1132.6 1637.5,1143.8 1638.2,1145.3 1639.1,1139.5 1639.8,1147.0 1640.4,1135.7 1641.2,1143.8 1641.9,1147.8 1642.5,1147.7 1643.2,1142.7 1643.9,1142.6 1644.5,1137.0 1645.3,1137.1 1646.0,1149.5 1646.7,1136.2 1647.5,1143.8 1648.2,1144.3 1649.0,1144.3 1649.7,1143.1 1650.4,1142.4 1651.2,1138.8 1652.0,1144.4 1652.8,1139.2 1653.6,1143.9 1654.3,1143.2 1655.0,1145.0 1655.8,1151.6 1656.6,1149.3 1657.3,1139.7 1658.0,1148.5 1658.8,1151.2 1659.7,1147.0 1660.5,1159.5 1661.2,1157.3 1661.8,1142.3 1662.5,1140.0 1663.1,1142.0 1663.8,1142.1 1664.4,1141.6 1665.0,1155.0 1665.6,1154.0 1666.2,1147.9 1667.0,1147.9 1667.5,1138.0 1668.1,1151.6 1668.7,1151.1 1669.4,1147.5 1670.0,1162.5 1670.8,1145.8 1671.5,1144.4 1672.3,1146.0 1673.0,1133.8 1673.6,1144.2 1674.3,1152.8 1674.9,1151.5 1675.5,1155.0 1676.1,1148.7 1676.7,1150.2 1677.5,1145.1 1678.1,1147.4 1678.8,1141.2 1679.4,1153.0 1680.1,1158.1 1680.8,1160.0 1681.5,1152.3 1682.2,1157.1 1683.0,1155.4 1683.8,1156.2 1684.4,1159.2 1685.1,1154.2 1685.8,1149.0 1686.3,1147.7 1687.0,1143.8 1687.2,1153.8 1687.8,1140.0 1688.6,1150.8 1689.1,1154.9 1689.8,1145.3 1690.5,1145.0 1691.3,1145.7 1692.0,1143.9 1692.8,1150.1 1693.5,1153.8 1694.3,1149.9 1695.0,1143.4 1695.7,1152.1 1696.5,1142.5 1697.2,1147.7 1697.9,1148.1 1698.5,1161.2 1699.3,1151.2 1699.9,1151.6 1700.8,1152.7 1701.5,1151.2 1702.2,1146.2 1702.9,1153.1 1703.5,1161.7 1704.2,1153.8 1704.8,1150.7 1705.5,1161.2 1706.2,1164.1 1707.0,1148.7 1707.8,1158.1 1708.5,1150.0 1709.2,1159.2 1710.1,1153.0 1710.8,1154.5 1711.4,1151.8 1712.2,1157.5 1713.1,1154.8 1713.8,1143.4 1714.5,1147.1 1715.3,1161.1 1716.0,1144.5 1716.6,1152.5 1717.2,1161.5 1717.8,1151.6 1718.5,1162.5 1719.2,1154.7 1720.0,1156.3 1720.8,1156.9 1721.5,1166.2 1722.2,1159.3 1722.8,1155.8 1723.3,1157.0 1724.0,1151.2 1724.7,1159.3 1725.4,1164.7 1726.0,1171.2 1726.7,1159.8 1727.4,1162.5 1728.2,1165.5 1729.0,1176.2 1729.7,1167.8 1730.3,1170.7 1731.0,1150.0 1731.7,1163.7 1732.5,1156.7 1733.2,1160.5 1734.0,1166.2 1734.6,1153.8 1735.3,1154.3 1735.9,1159.5 1736.6,1159.2 1737.4,1157.5 1738.0,1150.5 1738.6,1155.2 1739.3,1153.4 1739.8,1159.9 1740.5,1161.2 1741.2,1157.7 1742.0,1154.4 1742.8,1155.7 1743.5,1157.5 1744.2,1154.7 1744.8,1152.9 1745.4,1157.4 1746.0,1148.8 1746.7,1166.1 1747.5,1155.7 1748.3,1167.5 1749.0,1167.5 1749.7,1157.3 1750.3,1162.3 1751.1,1160.3 1751.7,1169.8 1752.3,1164.4 1753.0,1156.2 1753.8,1168.2 1754.5,1158.4 1755.2,1164.4 1756.0,1165.0 1756.6,1168.4 1757.3,1167.2 1758.0,1176.2 1758.6,1160.9 1759.4,1165.5 1760.1,1172.6 1760.7,1161.3 1761.5,1158.8 1762.1,1166.6 1762.8,1164.4 1763.5,1164.2 1764.1,1163.3 1764.8,1166.2 1765.4,1163.2 1766.1,1165.0 1766.6,1162.0 1767.2,1155.0 1767.9,1160.3 1768.8,1165.5 1769.5,1163.0 1770.2,1149.2 1770.9,1162.0 1771.7,1162.1 1772.3,1162.1 1773.0,1171.2 1773.7,1156.5 1774.4,1171.0 1775.0,1170.5 1775.8,1169.2 1776.5,1157.5 1777.1,1165.7 1777.8,1162.4 1778.4,1165.3 1779.2,1168.5 1779.8,1180.5 1780.3,1172.8 1781.0,1161.5 1781.6,1169.0 1782.2,1160.0 1783.0,1163.7 1783.8,1162.7 1784.6,1167.6 1785.3,1168.1 1786.0,1170.0 1786.7,1160.2 1787.5,1160.2 1788.2,1165.8 1789.0,1174.0 1789.8,1164.5 1790.4,1171.7 1791.0,1172.4 1791.7,1166.6 1792.3,1173.8 1793.0,1173.8 1793.8,1167.6 1794.4,1170.7 1795.2,1167.7 1796.0,1157.5 1796.7,1169.3 1797.3,1166.6 1798.0,1156.2 1798.6,1162.8 1799.2,1174.3 1799.8,1168.2 1800.5,1180.5 1801.2,1164.6 1802.0,1168.3 1802.8,1167.7 1803.5,1162.5 1804.3,1161.9 1804.9,1165.7 1805.7,1162.7 1806.5,1164.1 1807.2,1170.5 1808.0,1155.5 1808.7,1167.3 1809.5,1165.7 1810.3,1168.9 1811.0,1171.2 1811.6,1167.6 1812.3,1171.1 1813.0,1175.8 1813.6,1171.8 1814.2,1182.0 1814.8,1164.1 1815.5,1162.4 1816.2,1166.9 1816.8,1163.8 1817.5,1172.0 1818.2,1169.2 1819.0,1169.8 1819.8,1172.5 1820.5,1165.2 1821.2,1162.4 1822.0,1169.2 1822.8,1162.3 1823.5,1165.5 1824.2,1170.7 1824.9,1167.2 1825.7,1173.2 1826.5,1175.0 1827.1,1171.2 1827.7,1169.6 1828.4,1176.6 1829.2,1180.0 1829.8,1177.5 1830.5,1166.9 1831.2,1164.3 1832.0,1171.4 1832.8,1167.2 1833.5,1162.5 1834.1,1167.4 1834.7,1172.5 1835.4,1172.7 1836.0,1171.2 1836.8,1167.7 1837.6,1171.8 1838.3,1167.9 1839.0,1158.8 1839.8,1159.4 1840.5,1171.9 1841.3,1172.4 1842.0,1165.4 1842.7,1167.2 1843.5,1177.5 1844.2,1166.3 1844.8,1166.0 1845.4,1169.8 1846.0,1155.0 1846.7,1164.6 1847.5,1162.2 1848.3,1161.3 1849.0,1173.8 1849.7,1166.1 1850.3,1169.9 1850.9,1170.4 1851.5,1158.8 1852.2,1172.7 1852.9,1168.5 1853.5,1164.2 1854.2,1180.0 1854.9,1168.1 1855.7,1161.9 1856.5,1161.0 1857.2,1153.8 1858.0,1169.5 1858.6,1162.5 1859.2,1185.0 1860.0,1172.1 1860.8,1171.2 1861.5,1166.5 1862.2,1171.2 1863.0,1172.3 1863.8,1169.1 1864.5,1174.0 1865.3,1167.6 1866.0,1175.3 1866.8,1161.2 1867.6,1179.2 1868.5,1183.8 1869.3,1169.3 1870.0,1175.2 1870.8,1172.8 1871.4,1167.1 1872.2,1163.8 1872.9,1172.3 1873.5,1169.0 1874.1,1174.9 1874.8,1182.5 1875.4,1172.6 1876.1,1183.5 1876.7,1178.3 1877.3,1170.6 1878.0,1168.8 1878.7,1171.0 1879.4,1178.2 1880.1,1170.9 1880.9,1175.1 1881.5,1185.0 1882.2,1174.9 1882.8,1179.8 1883.5,1179.2 1884.1,1175.3 1884.8,1170.0 1885.4,1178.4 1886.1,1179.7 1886.7,1170.6 1887.4,1172.8 1888.0,1163.0 1888.6,1170.3 1889.3,1173.4 1889.9,1173.0 1890.5,1181.2 1891.1,1172.4 1891.9,1181.2 1892.6,1176.0 1893.3,1179.3 1894.0,1183.8 1894.7,1180.6 1895.3,1175.6 1896.0,1173.6 1896.5,1181.4 1897.2,1172.5 1897.9,1174.0 1898.6,1180.8 1899.2,1176.9 1899.8,1176.0 1900.5,1183.8 1901.3,1174.9 1901.9,1178.1 1902.7,1179.7 1903.5,1171.2 1904.1,1180.6 1904.8,1171.2 1905.4,1172.1 1906.0,1177.5 1906.7,1170.7 1907.6,1169.4 1908.3,1166.3 1909.0,1169.7 1909.8,1162.5 1910.4,1173.5 1911.1,1165.5 1911.7,1171.9 1912.4,1172.2 1913.0,1177.5 1913.8,1169.0 1914.5,1175.6 1915.3,1169.7 1916.0,1169.5 1916.6,1184.1 1917.3,1173.9 1917.9,1181.4 1918.5,1176.2 1919.1,1176.1 1919.7,1176.8 1920.5,1181.3 1921.1,1175.8 1921.8,1188.8 1922.5,1172.5 1923.3,1171.5 1924.0,1162.5 1924.6,1176.5 1925.2,1174.1 1926.0,1168.7 1926.5,1181.5 1927.2,1186.2 1927.9,1174.4 1928.5,1173.4 1929.1,1177.7 1929.8,1177.4 1930.5,1185.0 1931.4,1184.0 1932.2,1169.5 1932.9,1178.7 1933.5,1181.5 1934.2,1180.3 1934.8,1186.2 1935.3,1180.5 1936.1,1185.0 1936.6,1175.9 1937.2,1191.2 1937.8,1182.6 1938.6,1181.0 1939.2,1176.9 1939.8,1172.7 1940.5,1171.2 1941.2,1182.9 1941.8,1182.7 1942.4,1179.9 1943.0,1183.8 1943.7,1173.6 1944.2,1165.4 1944.9,1172.2 1945.5,1162.0 1946.3,1177.2 1947.0,1169.0 1947.8,1176.3 1948.5,1172.5 1949.3,1175.5 1950.0,1170.4 1950.8,1182.5 1951.5,1183.8 1952.2,1179.8 1952.8,1182.7 1953.5,1188.8 1954.2,1184.2 1954.8,1180.3 1955.4,1174.0 1956.0,1171.2 1956.8,1179.9 1957.6,1175.1 1958.2,1182.2 1959.0,1182.5 1959.7,1180.4 1960.4,1179.5 1961.0,1180.0"/>
<polyline id="blue" stroke="#0433ff" points="232.7,744.6 233.4,725.9 234.2,728.6 234.9,723.2 235.6,710.9 236.2,718.1 236.8,702.2 237.5,708.0 238.3,705.1 239.0,703.6 239.7,707.2 240.4,698.5 241.2,691.0 241.7,694.9 242.4,693.7 243.0,689.1 243.7,694.7 244.4,686.0 245.2,679.8 245.7,682.3 246.4,671.0 247.0,680.5 247.8,680.9 248.4,682.3 249.0,669.3 249.7,661.0 250.4,672.2 251.1,666.4 251.8,676.0 252.5,662.3 253.2,664.2 253.9,672.3 254.7,652.7 255.5,654.8 256.4,653.4 257.0,644.1 257.9,647.5 258.6,637.3 259.6,624.9 260.3,632.8 261.1,627.2 261.8,619.9 262.4,625.3 263.1,626.5 263.6,626.8 264.2,613.6 265.0,622.6 265.9,616.6 266.6,615.6 267.4,623.6 268.0,613.5 268.6,607.1 269.2,609.9 269.9,597.4 270.6,606.3 271.2,602.5 272.0,598.1 272.7,598.1 273.4,602.4 274.2,596.2 274.9,585.0 275.5,588.7 276.0,587.9 276.7,583.6 277.3,587.4 277.9,582.2 278.6,572.5 279.2,579.0 279.8,569.3 280.5,565.0 281.0,566.3 281.8,565.3 282.3,573.7 283.2,565.8 283.9,566.7 284.6,563.4 285.3,565.9 286.1,560.0 286.8,560.0 287.5,560.0 288.3,552.3 288.9,550.5 289.7,549.1 290.4,542.9 291.1,541.2 291.8,536.3 292.5,526.2 293.2,538.3 294.1,532.0 294.7,527.9 295.5,538.8 296.2,522.8 297.1,523.5 297.8,513.3 298.5,513.7 299.3,510.2 300.0,495.0 300.7,502.6 301.2,504.5 302.0,503.2 302.6,495.3 303.2,506.2 304.1,495.0 304.7,496.5 305.6,492.5 306.2,485.0 306.9,489.9 307.5,483.8 308.3,483.8 309.1,484.8 309.7,482.0 310.5,487.5 311.1,473.1 311.7,471.2 312.3,469.7 313.0,467.5 313.8,463.0 314.5,446.2 315.3,463.6 316.0,454.8 316.8,458.3 317.5,455.0 318.1,456.1 318.9,452.6 319.5,449.4 320.1,450.6 320.8,458.8 321.4,447.8 322.3,444.9 323.0,442.0 323.8,437.5 324.4,439.7 325.2,442.1 325.8,443.7 326.6,441.0 327.4,440.0 328.0,448.8 328.6,435.0 329.3,434.6 329.9,434.7 330.5,418.8 331.2,430.2 331.8,432.3 332.3,433.3 333.0,443.8 333.8,426.6 334.5,423.2 335.2,419.7 336.0,416.4 336.8,414.0 337.5,400.0 338.2,415.2 338.9,411.2 339.7,406.7 340.5,415.0 341.2,400.2 341.8,397.0 342.4,396.4 343.1,394.9 343.8,385.0 344.4,388.4 345.0,383.5 345.6,383.9 346.4,385.3 347.0,387.5 347.7,375.7 348.4,371.1 349.1,369.6 349.8,363.4 350.5,351.2 351.2,358.3 351.8,361.2 352.4,365.4 353.1,362.6 353.8,366.2 354.4,356.4 355.1,361.9 355.7,363.5 356.2,360.0 357.0,365.8 357.7,359.6 358.5,358.4 359.2,368.8 359.9,359.9 360.5,357.5 361.2,354.9 361.8,351.5 362.5,355.0 363.3,344.4 363.9,344.5 364.7,346.6 365.5,331.2 366.3,338.2 367.0,338.4 367.8,337.2 368.5,335.4 369.2,345.0 369.9,331.6 370.7,325.8 371.3,325.1 372.0,312.5 372.8,322.4 373.5,321.4 374.0,319.8 374.9,312.1 375.5,321.2 376.3,312.5 377.1,310.8 377.7,311.5 378.5,311.0 379.3,309.4 380.0,302.5 380.6,305.4 381.3,308.7 382.0,312.5 382.8,303.1 383.4,298.2 384.2,303.4 385.0,295.0 385.7,301.4 386.5,307.0 387.3,299.9 388.0,307.5 388.7,299.9 389.5,304.8 390.3,301.2 391.0,294.3 391.7,297.9 392.5,285.0 393.1,298.8 393.8,297.2 394.4,298.9 395.0,305.0 395.7,299.8 396.5,299.8 397.2,295.6 398.0,311.2 398.6,300.6 399.2,296.2 399.9,300.0 400.5,282.5 401.3,294.3 402.0,292.7 402.8,295.2 403.5,294.1 404.3,288.5 405.0,298.8 405.7,288.1 406.4,290.7 407.2,291.8 407.9,295.6 408.8,283.8 409.6,289.0 410.3,291.4 411.0,284.4 411.7,287.9 412.5,292.5 413.3,283.8 414.0,287.4 414.7,284.1 415.6,287.5 416.2,288.8 417.0,280.0 417.7,284.6 418.4,280.0 419.2,267.5 419.9,282.3 420.6,288.3 421.2,301.2 421.9,288.7 422.6,288.5 423.2,288.0 423.8,289.8 424.5,281.2 425.2,288.4 425.9,293.8 426.6,299.1 427.2,295.0 428.0,308.8 428.7,296.5 429.3,295.5 430.0,289.3 430.5,295.1 431.2,280.0 431.9,293.4 432.5,295.9 433.1,296.1 433.8,308.8 434.4,294.0 435.0,287.5 435.6,289.9 436.2,277.5 436.9,287.1 437.5,290.4 438.2,286.9 438.8,295.0 439.4,293.6 440.1,284.7 440.7,288.4 441.2,280.0 441.9,293.6 442.4,293.6 443.1,291.6 443.8,297.5 444.3,298.7 445.1,295.9 445.7,302.4 446.3,303.8 447.0,316.2 447.8,297.8 448.5,303.6 449.1,301.5 449.9,300.0 450.5,299.2 451.2,296.2 452.0,300.7 452.7,302.2 453.5,294.6 454.2,296.5 455.0,284.5 455.7,295.2 456.4,293.2 457.1,299.6 457.8,296.0 458.4,298.3 459.2,298.3 459.8,301.9 460.6,299.2 461.2,306.2 461.9,296.9 462.5,297.4 463.1,294.3 463.8,295.5 464.5,287.0 465.3,295.6 466.0,297.6 466.8,297.5 467.5,302.5 468.2,296.6 468.8,290.0 469.5,299.1 470.2,298.1 470.9,302.2 471.8,306.5 472.5,312.5 473.2,299.2 473.8,307.0 474.3,300.7 475.0,298.8 475.7,303.4 476.3,309.7 477.0,315.0 477.7,309.2 478.5,303.7 479.2,293.8 479.8,305.1 480.6,304.6 481.2,308.8 481.8,307.7 482.6,309.5 483.1,310.6 483.8,309.7 484.5,318.8 485.2,313.6 485.8,319.8 486.7,310.3 487.2,314.3 488.0,309.5 488.6,316.4 489.2,317.9 489.9,320.8 490.5,331.2 491.1,323.0 491.7,322.5 492.5,328.5 493.0,324.6 493.8,320.0 494.4,321.4 495.0,323.8 495.7,318.5 496.5,316.9 497.2,312.5 498.0,306.2 498.7,315.9 499.3,313.0 500.0,312.3 500.6,307.6 501.2,317.5 501.9,313.4 502.5,314.0 503.2,315.3 503.8,311.2 504.4,317.9 504.9,312.6 505.6,311.4 506.2,321.2 507.1,319.2 508.0,310.0 508.6,318.0 509.3,322.3 509.9,320.6 510.5,327.5 511.2,317.9 512.0,318.0 512.8,317.8 513.4,316.0 514.2,306.2 514.9,318.0 515.7,319.9 516.3,314.0 517.0,310.0 517.8,314.6 518.8,320.0 519.4,315.8 520.2,315.6 520.9,312.6 521.8,313.1 522.5,320.5 523.2,315.0 523.8,314.0 524.5,308.8 525.1,316.4 525.7,309.3 526.4,312.7 527.0,317.5 527.7,303.3 528.4,298.9 529.1,301.0 529.7,300.9 530.5,282.5 531.1,298.2 531.8,297.8 532.3,301.8 533.0,308.8 533.6,297.5 534.3,298.8 534.9,300.6 535.6,293.0 536.2,285.0 536.9,294.8 537.8,297.5 538.6,298.1 539.2,310.0 539.9,302.4 540.6,298.1 541.2,307.3 541.8,303.3 542.5,312.5 543.2,303.5 543.7,299.0 544.3,308.6 545.0,310.0 545.6,304.8 546.2,306.8 546.8,304.9 547.5,297.5 548.2,297.8 548.7,303.2 549.3,298.8 550.0,308.8 550.7,297.9 551.4,301.1 552.2,292.6 553.0,286.2 553.8,286.7 554.5,271.2 555.3,283.1 556.0,283.0 556.5,284.7 557.3,285.3 558.0,298.8 558.7,292.3 559.4,287.4 560.1,288.6 560.8,292.5 561.4,290.3 562.2,285.3 562.8,287.8 563.5,275.0 564.2,288.8 564.9,290.0 565.6,293.0 566.2,287.9 567.0,303.8 567.8,291.6 568.4,295.8 569.3,299.7 570.0,288.8 570.7,296.6 571.2,301.0 571.9,294.9 572.5,305.0 573.3,294.3 574.0,293.0 574.8,297.7 575.5,286.2 576.3,295.6 577.0,305.0 577.7,306.1 578.2,296.5 578.8,303.7 579.5,296.2 580.2,309.0 581.0,313.8 581.7,312.4 582.5,325.0 583.2,312.9 584.0,317.6 584.8,319.6 585.5,316.2 586.2,325.2 586.8,325.2 587.5,326.3 588.2,329.4 588.8,327.5 589.5,339.3 590.2,330.0 591.0,338.9 591.8,342.7 592.5,331.2 593.1,340.7 593.7,345.2 594.3,348.6 595.0,357.5 595.7,350.7 596.3,355.5 596.8,352.6 597.5,343.8 598.2,353.9 599.1,353.1 599.8,367.3 600.4,369.6 601.2,358.8 601.9,371.0 602.5,372.5 603.2,375.7 603.8,373.8 604.6,382.4 605.3,382.7 605.9,385.6 606.8,387.2 607.5,397.5 608.2,393.6 609.0,400.5 609.7,401.1 610.5,402.3 611.2,412.5 611.9,403.1 612.5,409.0 613.1,409.3 613.8,402.5 614.4,413.7 615.0,411.7 615.6,418.2 616.2,423.8 617.0,418.4 617.8,422.4 618.4,418.1 619.2,422.2 620.0,423.8 620.8,428.1 621.5,427.7 622.2,427.5 622.9,436.3 623.8,440.0 624.4,434.5 625.3,437.5 626.0,438.3 626.8,441.5 627.5,436.2 628.1,445.8 628.7,441.1 629.3,447.1 630.0,450.0 630.7,445.5 631.6,453.2 632.2,452.4 632.9,456.4 633.8,452.5 634.4,461.6 635.0,455.2 635.8,465.6 636.4,457.4 637.0,466.2 637.6,469.3 638.3,464.4 638.9,470.2 639.5,465.0 640.2,471.1 640.9,471.0 641.8,473.9 642.5,487.5 643.2,482.2 644.0,479.9 644.7,481.4 645.6,484.3 646.2,478.8 646.8,487.4 647.5,487.0 648.0,488.3 648.8,495.0 649.3,492.8 650.0,496.3 650.6,494.3 651.2,490.0 651.9,493.3 652.4,497.1 653.2,499.1 653.8,505.0 654.4,501.2 655.1,503.2 655.6,504.1 656.2,497.5 656.9,505.5 657.6,502.8 658.2,504.1 658.8,503.5 659.5,513.8 660.2,504.3 660.9,505.1 661.6,501.5 662.3,504.3 663.1,503.7 663.8,492.5 664.5,499.8 665.2,503.5 666.0,511.0 666.7,509.4 667.5,515.0 668.2,507.9 668.8,511.8 669.4,514.5 670.0,521.2 670.8,516.4 671.6,515.6 672.3,519.0 673.0,510.0 673.7,519.5 674.3,515.4 674.9,517.0 675.6,510.7 676.2,520.0 677.0,512.3 677.8,513.1 678.6,513.5 679.3,514.6 680.0,498.8 680.6,507.0 681.2,512.9 681.9,512.4 682.5,517.5 683.3,509.9 684.0,512.2 684.7,519.4 685.5,525.0 686.2,514.5 686.8,517.9 687.5,519.4 688.0,523.2 688.8,512.5 689.4,513.2 690.0,518.6 690.7,520.6 691.2,522.5 692.0,522.1 692.7,517.4 693.5,519.1 694.3,518.1 695.0,528.8 695.7,519.2 696.5,521.9 697.2,516.8 697.9,518.3 698.6,512.7 699.4,513.9 700.0,506.2 700.7,514.0 701.6,511.9 702.2,515.6 703.0,521.2 703.7,511.6 704.3,508.2 704.9,512.6 705.6,509.8 706.2,501.2 706.9,509.8 707.6,515.0 708.4,515.3 709.2,515.4 709.8,517.7 710.5,524.2 711.2,530.0 712.0,517.3 712.5,518.9 713.1,519.5 713.8,517.5 714.3,523.3 715.0,524.5 715.7,521.9 716.2,532.5 717.0,528.1 717.7,523.2 718.5,529.9 719.3,526.8 720.0,526.2 720.7,525.5 721.3,523.3 721.9,523.4 722.5,531.2 723.2,523.6 723.7,517.4 724.4,516.1 725.0,505.0 725.6,511.1 726.4,512.0 727.0,518.8 728.0,518.8 728.7,508.2 729.3,510.7 730.0,510.3 730.5,511.4 731.2,515.0 731.8,510.7 732.4,508.3 733.2,509.0 733.8,503.8 734.4,509.9 735.3,513.3 736.0,501.9 736.7,509.5 737.4,506.2 738.2,495.0 739.0,509.2 739.7,504.9 740.4,511.9 741.1,513.5 741.8,509.4 742.5,522.5 743.1,514.4 743.8,510.9 744.4,509.3 745.0,501.2 745.7,513.0 746.5,509.7 747.2,511.6 748.0,507.5 748.8,520.0 749.4,510.6 750.0,506.9 750.7,514.2 751.4,517.4 752.0,505.0 752.8,513.2 753.5,515.5 754.2,516.8 755.0,521.2 755.8,508.6 756.5,511.8 757.2,511.7 758.1,510.1 758.8,506.2 759.3,514.1 759.9,512.5 760.6,510.0 761.2,518.8 762.1,514.1 762.7,517.3 763.5,512.9 764.2,512.5 765.0,508.5 765.6,514.7 766.4,506.6 767.0,502.5 767.8,508.0 768.8,513.8 769.5,509.1 770.3,504.0 770.9,504.9 771.8,501.2 772.4,505.7 773.1,510.2 773.7,508.0 774.3,511.6 775.0,520.0 775.6,511.5 776.3,511.0 776.9,516.6 777.5,516.1 778.2,515.0 778.9,517.9 779.7,512.9 780.5,513.5 781.2,508.8 781.8,518.0 782.4,515.3 783.1,520.1 783.8,526.2 784.5,521.7 785.3,522.2 785.9,521.6 786.7,526.0 787.5,530.0 788.2,523.8 788.7,524.4 789.4,521.9 790.0,517.5 790.7,519.8 791.5,521.9 792.3,520.2 793.0,521.2 793.7,521.2 794.5,517.5 795.2,514.9 796.0,518.3 796.8,520.8 797.5,513.8 798.3,516.3 799.1,520.7 799.7,521.8 800.4,522.5 801.2,526.2 802.0,522.8 802.7,520.5 803.4,520.5 804.1,524.2 804.8,522.5 805.5,510.0 806.2,514.6 806.8,523.1 807.5,521.2 808.1,522.8 808.8,532.5 809.6,527.4 810.5,521.2 811.1,525.1 811.7,527.6 812.5,521.1 813.1,526.7 813.8,527.5 814.5,527.1 815.1,527.9 815.8,531.9 816.6,526.3 817.3,524.5 818.0,532.5 818.6,527.8 819.2,523.5 819.9,521.5 820.6,526.6 821.2,526.2 822.0,526.8 822.6,523.0 823.2,525.5 823.9,524.2 824.5,520.0 825.3,528.3 826.2,530.0 826.8,529.9 827.6,532.6 828.1,528.6 828.8,527.5 829.4,537.0 830.0,543.3 830.7,539.9 831.2,553.8 831.9,546.0 832.5,542.3 833.2,546.0 833.9,545.8 834.5,548.8 835.3,548.1 835.9,547.3 836.8,546.9 837.5,537.5 838.1,545.2 838.8,549.6 839.4,551.8 840.0,548.8 840.7,549.9 841.3,547.7 842.0,563.8 842.7,555.0 843.5,549.7 844.3,553.0 845.0,555.0 845.8,554.8 846.5,554.5 847.2,548.3 847.9,551.6 848.8,547.5 849.3,551.0 850.1,548.1 850.6,552.6 851.2,553.8 851.9,557.2 852.5,554.8 853.2,551.5 853.8,555.4 854.5,557.5 855.3,555.9 856.2,551.2 857.0,556.7 857.7,551.5 858.5,549.6 859.3,556.1 860.0,558.8 860.8,553.1 861.4,552.1 862.3,554.6 863.0,558.4 863.8,551.2 864.4,564.3 865.1,561.8 865.6,558.8 866.2,555.0 866.8,562.8 867.4,563.3 868.1,568.2 868.8,577.5 869.4,565.9 870.0,566.3 870.8,572.1 871.3,567.2 872.0,572.5 872.7,567.8 873.5,574.2 874.2,569.4 875.0,563.8 875.8,578.2 876.5,577.0 877.3,578.1 878.0,576.2 878.7,577.2 879.3,578.2 880.1,579.7 880.8,595.0 881.5,581.9 882.2,578.7 882.9,580.4 883.8,580.0 884.4,578.3 885.2,575.6 886.0,576.8 886.8,561.2 887.5,579.7 888.0,580.9 888.7,586.0 889.4,584.8 890.0,596.2 890.8,583.6 891.4,587.2 892.2,588.9 892.9,586.8 893.8,586.2 894.3,598.5 895.0,592.3 895.7,595.1 896.2,595.0 897.1,599.1 898.0,607.5 898.7,603.0 899.4,602.8 900.0,605.1 900.8,605.0 901.6,605.7 902.5,590.0 903.2,597.7 904.0,602.3 904.7,605.4 905.5,603.8 906.1,605.0 906.9,609.0 907.5,608.9 908.2,621.2 909.0,608.4 909.7,612.4 910.4,606.7 911.0,601.8 911.8,599.4 912.5,593.8 913.1,605.0 913.8,610.0 914.4,611.7 915.0,615.0 915.7,607.7 916.5,613.4 917.2,615.3 918.0,612.5 918.7,613.2 919.4,615.6 919.9,613.9 920.6,618.6 921.2,621.2 921.9,618.0 922.6,617.2 923.2,613.3 923.8,606.2 924.5,613.0 925.2,619.1 926.0,615.4 926.7,617.4 927.5,625.0 928.2,620.2 928.7,621.2 929.4,624.4 930.0,617.5 930.7,625.9 931.4,629.2 932.2,629.2 933.0,637.5 933.6,632.3 934.3,633.2 935.0,637.6 935.6,639.1 936.2,633.8 937.1,636.0 937.7,640.1 938.5,642.3 939.2,645.0 939.8,640.2 940.6,639.5 941.2,639.1 941.9,636.7 942.5,630.0 943.2,641.2 943.7,637.3 944.3,638.0 945.0,642.5 945.7,631.8 946.4,637.7 947.2,637.7 948.0,628.8 948.7,637.3 949.2,633.3 949.9,641.1 950.6,636.4 951.2,643.8 952.0,637.3 952.7,640.0 953.4,639.6 954.2,637.5 954.9,646.9 955.6,643.2 956.3,643.0 957.0,650.0 957.9,647.9 958.8,646.2 959.4,655.6 960.1,651.0 960.6,654.5 961.2,662.5 962.0,652.8 962.7,658.3 963.5,658.5 964.3,655.5 965.0,661.2 965.8,662.1 966.5,660.5 967.3,658.5 968.0,659.3 968.8,652.5 969.4,657.9 970.0,661.6 970.7,663.3 971.4,660.3 972.0,660.0 972.7,663.5 973.6,665.6 974.3,664.3 975.0,677.5 975.8,665.3 976.5,669.1 977.2,661.5 977.9,660.6 978.7,660.5 979.5,655.0 980.3,664.4 981.0,663.3 981.8,665.2 982.5,666.2 983.2,662.5 983.7,667.5 984.3,665.0 985.0,667.5 985.6,663.7 986.3,663.4 986.9,664.3 987.5,666.0 988.2,662.5 989.1,671.7 989.7,668.9 990.6,675.5 991.2,680.0 991.9,669.5 992.5,679.6 993.1,679.2 993.8,677.8 994.5,686.2 995.3,676.8 996.0,674.1 996.7,675.6 997.5,670.0 998.2,676.6 999.0,680.6 999.8,676.4 1000.4,674.5 1001.2,680.0 1001.9,677.4 1002.6,672.3 1003.1,674.5 1003.8,672.5 1004.4,673.7 1005.3,674.3 1005.9,673.0 1006.8,667.5 1007.4,673.1 1008.2,669.7 1008.8,673.6 1009.5,678.8 1010.3,674.1 1011.1,674.7 1011.8,678.4 1012.5,675.0 1013.1,676.0 1013.8,679.3 1014.4,678.9 1015.0,681.2 1015.6,679.6 1016.2,680.7 1016.9,682.5 1017.5,686.2 1018.2,679.7 1019.1,678.0 1019.8,679.8 1020.6,674.7 1021.2,670.0 1022.1,681.7 1022.7,674.2 1023.6,676.7 1024.3,678.3 1025.0,683.8 1025.7,680.5 1026.5,681.8 1027.2,674.6 1027.9,682.4 1028.8,668.8 1029.5,676.4 1030.1,683.5 1030.7,681.8 1031.3,679.2 1032.0,690.0 1032.7,681.6 1033.5,686.9 1034.2,689.4 1035.0,697.5 1035.7,686.7 1036.2,686.7 1036.9,689.8 1037.5,687.5 1038.2,691.7 1038.8,688.5 1039.5,685.6 1040.2,689.4 1040.8,681.2 1041.6,690.6 1042.3,689.6 1043.0,689.5 1043.8,693.8 1044.3,692.8 1045.0,688.0 1045.8,693.5 1046.3,693.5 1047.0,688.8 1047.7,689.9 1048.5,695.9 1049.3,693.1 1050.0,696.2 1050.6,695.8 1051.3,696.3 1052.0,691.2 1052.7,698.6 1053.5,694.5 1054.2,705.0 1054.9,697.7 1055.6,695.3 1056.2,694.9 1056.9,688.8 1057.5,690.0 1058.3,693.5 1059.0,689.7 1059.7,685.6 1060.5,688.4 1061.3,681.8 1062.0,675.0 1062.8,685.3 1063.5,685.3 1064.2,684.6 1065.0,692.5 1065.7,690.9 1066.3,687.9 1067.0,688.8 1067.6,687.3 1068.3,691.9 1068.8,690.6 1069.5,697.5 1070.2,690.8 1071.0,694.7 1071.8,695.0 1072.5,691.2 1073.2,694.5 1073.7,695.4 1074.4,693.0 1075.0,696.2 1075.7,693.1 1076.5,692.3 1077.2,694.3 1078.0,690.0 1078.6,692.5 1079.3,694.5 1080.0,689.7 1080.6,696.3 1081.2,697.5 1081.9,693.0 1082.6,693.0 1083.3,684.8 1084.0,682.5 1084.8,694.4 1085.5,686.1 1086.2,692.3 1087.0,696.2 1087.8,690.0 1088.5,693.9 1089.3,696.9 1090.0,695.0 1090.7,695.8 1091.3,694.9 1092.0,700.0 1092.7,695.6 1093.4,692.5 1094.2,687.2 1095.0,680.0 1095.6,684.8 1096.3,691.9 1096.9,689.2 1097.5,695.0 1098.2,690.7 1098.7,690.7 1099.3,695.7 1100.0,690.0 1100.8,693.9 1101.4,697.1 1102.3,696.1 1103.1,698.2 1103.8,708.8 1104.4,700.8 1105.1,697.3 1105.6,694.8 1106.2,685.0 1106.9,690.1 1107.5,690.2 1108.2,691.4 1108.8,695.0 1109.6,688.7 1110.3,691.7 1110.9,691.7 1111.8,685.0 1112.5,687.5 1113.0,693.8 1113.7,691.9 1114.4,695.3 1115.0,696.2 1115.7,698.8 1116.5,693.4 1117.2,695.7 1118.0,706.2 1118.6,697.6 1119.3,697.7 1120.0,698.6 1120.6,693.7 1121.2,695.0 1121.8,700.2 1122.5,694.4 1123.2,693.1 1123.8,690.0 1124.7,692.1 1125.5,700.0 1126.2,690.0 1126.9,695.4 1127.6,697.1 1128.2,697.4 1128.9,698.7 1129.5,705.0 1130.3,698.3 1131.0,699.9 1131.8,704.0 1132.5,710.0 1133.3,700.6 1133.9,707.8 1134.8,705.1 1135.5,697.5 1136.2,703.5 1137.0,705.5 1137.8,709.5 1138.5,707.0 1139.2,712.5 1139.9,707.3 1140.6,709.2 1141.3,709.8 1141.9,706.3 1142.5,705.0 1143.1,704.3 1143.7,706.6 1144.3,708.7 1145.0,711.2 1145.7,709.8 1146.3,707.0 1147.0,708.8 1147.7,710.9 1148.5,709.1 1149.1,708.1 1149.8,708.4 1150.5,706.5 1151.2,702.5 1151.8,706.8 1152.4,708.8 1153.1,709.7 1153.8,712.5 1154.4,712.1 1155.0,709.3 1155.7,711.6 1156.3,714.1 1157.0,715.0 1157.8,709.4 1158.5,712.4 1159.3,711.2 1160.0,707.5 1160.8,713.6 1161.4,715.7 1162.2,712.6 1163.0,715.0 1163.6,715.3 1164.4,715.8 1165.0,718.5 1165.6,718.1 1166.2,725.0 1166.9,718.2 1167.6,720.4 1168.2,718.8 1168.8,715.0 1169.5,718.8 1170.2,715.9 1170.9,717.0 1171.6,715.8 1172.3,714.8 1173.0,709.5 1173.7,715.9 1174.4,718.2 1175.0,723.8 1175.8,721.5 1176.4,720.2 1177.3,721.3 1178.0,724.2 1178.8,719.7 1179.5,717.5 1180.2,724.9 1181.0,726.5 1181.7,724.4 1182.5,725.0 1183.2,733.0 1184.0,732.4 1184.7,734.7 1185.5,730.4 1186.2,730.0 1187.0,738.9 1187.8,736.7 1188.6,738.5 1189.2,747.5 1189.9,740.7 1190.5,734.6 1191.3,739.5 1191.9,737.2 1192.5,731.2 1193.3,735.8 1194.0,738.1 1194.7,739.3 1195.5,745.0 1196.1,738.7 1196.8,736.9 1197.5,744.5 1198.2,740.4 1198.8,733.8 1199.5,741.8 1200.2,738.6 1201.1,740.0 1201.8,743.0 1202.5,738.8 1203.2,739.2 1204.0,741.7 1204.8,745.9 1205.6,748.1 1206.3,744.8 1207.0,755.0 1207.8,745.4 1208.5,746.7 1209.3,744.7 1210.0,737.5 1210.6,745.9 1211.2,741.7 1211.9,741.4 1212.5,747.5 1213.3,742.0 1214.2,743.8 1214.8,748.1 1215.4,747.2 1216.2,751.7 1216.8,756.2 1217.5,753.3 1218.3,754.4 1219.0,748.5 1219.8,754.3 1220.5,747.5 1221.2,753.8 1222.0,755.8 1222.7,757.2 1223.6,754.8 1224.2,762.5 1224.9,761.6 1225.5,759.4 1226.2,759.2 1226.9,761.8 1227.5,767.5 1228.2,767.0 1229.0,767.1 1229.7,764.7 1230.5,768.4 1231.2,766.2 1232.0,772.3 1232.7,767.9 1233.5,768.1 1234.2,770.0 1235.0,780.0 1235.8,768.0 1236.5,769.0 1237.3,771.8 1237.9,770.9 1238.8,757.0 1239.5,768.3 1240.1,767.6 1240.7,770.4 1241.4,767.3 1242.0,772.5 1242.7,770.5 1243.4,773.8 1244.3,770.4 1245.0,773.8 1245.8,774.4 1246.5,777.2 1247.3,778.1 1248.0,783.8 1248.6,773.9 1249.3,780.8 1250.0,773.6 1250.6,776.4 1251.3,780.1 1252.0,773.8 1252.6,779.8 1253.4,780.3 1254.1,783.0 1254.8,781.2 1255.5,781.2 1256.1,778.4 1256.9,780.1 1257.5,776.2 1258.3,782.1 1259.0,784.7 1259.8,786.0 1260.5,792.5 1261.1,787.1 1261.7,787.5 1262.5,790.0 1263.2,793.3 1263.8,786.2 1264.4,792.3 1264.9,791.8 1265.6,792.7 1266.2,796.2 1266.9,793.2 1267.7,794.3 1268.5,799.1 1269.3,792.1 1270.0,797.5 1270.8,797.0 1271.5,792.3 1272.3,796.8 1273.0,796.7 1273.8,801.2 1274.3,802.4 1275.1,800.0 1275.8,806.2 1276.4,798.1 1277.1,797.8 1277.9,798.9 1278.6,798.5 1279.2,792.5 1280.0,800.0 1280.7,804.0 1281.3,805.3 1282.0,810.0 1282.7,801.2 1283.4,803.7 1284.1,803.2 1284.8,805.4 1285.5,801.2 1286.3,805.6 1287.0,811.6 1287.7,807.2 1288.5,805.8 1289.3,810.8 1290.0,816.2 1290.6,810.6 1291.3,816.6 1291.8,812.0 1292.5,807.5 1293.2,813.0 1294.0,815.1 1294.7,816.1 1295.5,817.5 1296.2,822.5 1297.0,820.2 1297.8,817.0 1298.4,820.7 1299.3,818.0 1300.0,817.5 1300.7,819.1 1301.2,818.4 1301.9,822.4 1302.5,815.0 1303.3,822.4 1304.0,825.0 1304.8,825.2 1305.5,831.2 1306.2,821.6 1307.0,823.6 1307.8,826.1 1308.5,828.3 1309.2,827.0 1310.0,821.2 1310.8,822.8 1311.5,826.1 1312.3,829.1 1313.0,827.5 1313.7,825.4 1314.4,828.0 1315.0,825.0 1315.7,828.1 1316.5,830.2 1317.2,828.2 1318.1,832.0 1318.8,833.8 1319.5,829.2 1320.2,831.7 1320.9,830.5 1321.5,831.3 1322.3,834.0 1323.1,833.0 1323.8,827.0 1324.3,832.3 1325.1,829.6 1325.7,832.9 1326.2,835.0 1326.9,833.1 1327.5,835.4 1328.1,835.2 1328.8,842.5 1329.4,837.5 1330.0,840.1 1330.6,835.5 1331.3,838.4 1332.0,830.0 1332.7,837.5 1333.5,841.0 1334.2,836.1 1335.0,837.5 1335.8,836.9 1336.5,836.3 1337.3,841.4 1338.0,842.5 1338.6,841.4 1339.3,841.3 1340.0,841.6 1340.8,848.8 1341.6,845.9 1342.3,843.8 1343.0,842.4 1343.8,847.5 1344.3,839.3 1345.1,845.7 1345.7,843.0 1346.4,844.6 1347.0,837.5 1347.7,843.8 1348.5,843.1 1349.3,845.4 1350.0,850.0 1350.8,850.7 1351.5,849.9 1352.3,854.7 1353.0,851.4 1353.8,857.5 1354.5,847.6 1355.2,855.8 1355.9,853.2 1356.8,847.0 1357.5,853.3 1358.0,854.7 1358.8,854.2 1359.3,853.9 1360.0,852.5 1360.6,855.3 1361.3,854.6 1361.8,855.7 1362.5,862.5 1363.2,860.4 1363.9,856.6 1364.7,857.8 1365.4,857.3 1366.1,856.4 1366.9,855.8 1367.5,851.2 1368.3,859.6 1369.0,857.7 1369.7,857.4 1370.6,860.6 1371.2,861.2 1371.9,863.1 1372.5,864.8 1373.1,864.7 1373.8,865.0 1374.4,864.4 1375.0,866.3 1375.7,860.6 1376.3,867.1 1377.0,863.8 1377.7,865.6 1378.5,869.4 1379.3,869.2 1380.0,876.2 1380.8,868.2 1381.4,867.9 1382.2,869.0 1383.1,867.0 1383.8,856.2 1384.5,862.6 1385.3,864.3 1386.0,866.4 1386.8,862.7 1387.5,857.0 1388.2,865.5 1389.0,871.8 1389.8,868.4 1390.5,867.5 1391.2,865.3 1392.0,869.2 1392.8,870.2 1393.5,866.5 1394.3,868.1 1395.0,872.5 1395.7,867.7 1396.5,869.6 1397.2,871.9 1397.8,874.9 1398.6,875.7 1399.2,878.8 1399.8,867.9 1400.5,869.8 1401.3,872.0 1401.9,872.9 1402.5,870.0 1403.2,869.6 1404.0,871.8 1404.7,867.2 1405.5,871.7 1406.2,867.5 1407.0,872.6 1407.7,871.2 1408.6,870.5 1409.2,869.5 1410.0,873.0 1410.7,876.6 1411.5,871.1 1412.3,871.9 1413.0,873.1 1413.8,872.5 1414.4,872.4 1415.1,870.6 1415.7,874.9 1416.2,877.0 1416.8,871.6 1417.6,873.7 1418.2,870.4 1418.8,872.5 1419.5,876.6 1420.1,877.9 1420.7,875.6 1421.3,874.8 1422.0,878.8 1422.8,877.8 1423.5,877.0 1424.2,875.0 1425.0,882.1 1425.5,880.3 1426.2,887.5 1427.0,881.4 1427.6,878.0 1428.3,882.1 1429.1,883.2 1429.8,880.8 1430.5,874.5 1431.1,878.5 1431.9,876.6 1432.5,882.5 1433.1,878.8 1433.8,882.5 1434.4,882.0 1435.2,880.9 1436.0,879.5 1436.8,876.5 1437.5,877.5 1438.2,876.1 1439.0,878.2 1439.8,874.9 1440.6,880.2 1441.2,881.2 1441.8,875.5 1442.4,878.2 1443.2,881.8 1443.8,876.2 1444.4,881.5 1445.0,885.0 1445.7,883.1 1446.2,886.2 1447.0,883.2 1447.6,880.9 1448.2,881.0 1448.8,885.9 1449.5,891.2 1450.2,886.6 1450.9,884.9 1451.7,888.3 1452.3,886.6 1453.1,883.3 1453.8,883.8 1454.5,884.0 1455.2,883.9 1455.8,880.7 1456.5,884.4 1457.2,884.8 1458.0,879.5 1458.6,887.1 1459.4,889.6 1459.9,887.7 1460.5,886.2 1461.2,885.0 1462.0,887.8 1462.8,886.4 1463.5,889.0 1464.2,886.6 1465.0,887.5 1465.7,890.6 1466.5,890.5 1467.3,889.2 1468.0,891.0 1468.7,891.1 1469.5,893.8 1470.2,893.2 1471.0,886.7 1471.7,889.2 1472.5,896.2 1473.2,891.9 1473.8,890.5 1474.4,893.8 1475.2,889.2 1475.8,887.0 1476.4,891.9 1477.3,891.1 1478.1,893.5 1478.8,895.0 1479.6,892.7 1480.2,894.8 1481.0,893.9 1481.8,889.5 1482.4,894.0 1483.0,894.6 1483.7,890.4 1484.3,893.5 1485.0,900.0 1485.7,899.3 1486.3,896.5 1486.8,895.9 1487.5,892.5 1488.1,895.0 1488.7,897.2 1489.4,894.1 1490.0,898.8 1490.7,894.5 1491.4,894.0 1492.2,894.7 1493.1,890.2 1493.8,891.7 1494.5,891.2 1495.2,893.8 1496.0,893.6 1496.8,894.3 1497.5,897.5 1498.2,893.9 1498.7,895.1 1499.4,900.9 1500.0,896.2 1500.6,899.1 1501.2,897.5 1501.9,897.6 1502.5,903.8 1503.2,899.6 1504.0,897.1 1504.7,902.3 1505.6,894.7 1506.2,900.0 1507.0,900.7 1507.7,899.1 1508.5,897.2 1509.2,897.9 1510.0,890.5 1510.7,901.5 1511.6,899.5 1512.3,898.1 1513.0,899.0 1513.8,896.2 1514.5,896.7 1515.3,900.5 1516.1,901.2 1516.8,903.3 1517.5,902.5 1518.3,899.7 1519.0,901.8 1519.8,904.3 1520.5,902.7 1521.2,908.8 1522.0,903.2 1522.6,899.0 1523.4,903.4 1524.2,897.9 1524.7,899.1 1525.5,893.0 1526.2,903.4 1527.1,899.8 1527.8,902.7 1528.4,906.4 1529.2,907.5 1530.0,900.2 1530.6,904.0 1531.1,900.6 1531.9,903.1 1532.5,898.8 1533.3,908.1 1534.0,902.3 1534.7,900.7 1535.6,903.6 1536.2,910.0 1537.0,906.4 1537.8,905.6 1538.4,907.1 1539.2,908.5 1540.0,905.0 1540.7,910.5 1541.6,909.4 1542.3,910.3 1543.0,905.0 1543.7,909.3 1544.5,917.5 1545.2,913.5 1546.0,912.0 1546.7,906.2 1547.5,905.0 1548.1,908.1 1548.7,908.9 1549.4,910.5 1550.0,908.8 1550.7,910.2 1551.2,907.9 1551.9,911.9 1552.5,916.2 1553.3,907.1 1554.0,909.2 1554.7,908.7 1555.5,903.8 1556.1,913.7 1556.8,910.2 1557.4,909.2 1558.0,910.1 1558.8,911.2 1559.4,911.1 1560.0,912.0 1560.7,911.9 1561.4,914.7 1562.0,917.5 1562.8,915.2 1563.4,914.3 1564.2,915.6 1564.8,914.4 1565.5,911.2 1566.1,917.5 1566.7,923.4 1567.4,920.8 1568.0,928.8 1568.7,921.2 1569.3,919.9 1569.9,921.3 1570.6,921.9 1571.2,928.8 1571.9,920.2 1572.5,920.7 1573.1,920.9 1573.8,912.5 1574.4,916.1 1575.2,918.2 1575.9,916.8 1576.6,916.9 1577.3,919.3 1578.0,912.5 1578.7,919.8 1579.4,919.2 1580.0,921.6 1580.6,921.6 1581.2,920.0 1581.9,921.8 1582.5,915.7 1583.3,920.5 1583.9,919.3 1584.5,923.8 1585.2,918.7 1585.9,916.4 1586.6,919.3 1587.3,919.9 1588.0,920.1 1588.8,917.5 1589.4,918.7 1590.2,920.2 1591.1,920.9 1591.8,920.4 1592.5,918.8 1593.2,920.6 1594.0,919.0 1594.8,919.0 1595.6,918.5 1596.2,921.2 1597.1,922.1 1597.8,921.3 1598.5,923.9 1599.2,925.8 1600.0,920.0 1600.6,922.5 1601.3,923.3 1601.9,922.5 1602.5,930.0 1603.2,926.9 1604.0,920.3 1604.7,926.2 1605.5,922.6 1606.2,911.2 1607.2,919.9 1608.0,910.5 1608.8,920.6 1609.5,918.8 1610.3,916.9 1611.0,920.0 1611.8,921.0 1612.5,924.2 1613.3,923.4 1614.0,926.2 1614.7,920.4 1615.3,923.0 1616.0,925.3 1616.6,926.6 1617.3,927.0 1618.0,932.5 1618.7,926.3 1619.5,925.7 1620.3,923.1 1621.0,923.8 1621.8,926.9 1622.5,924.8 1623.2,924.2 1624.0,925.2 1624.8,923.2 1625.4,928.4 1626.1,927.6 1626.7,926.0 1627.4,931.4 1628.0,930.0 1628.8,924.1 1629.4,932.7 1630.3,925.9 1631.0,927.5 1631.7,930.8 1632.5,929.9 1633.3,931.8 1634.1,932.1 1634.8,932.5 1635.5,932.8 1636.2,931.7 1637.0,931.6 1637.7,935.5 1638.5,938.8 1639.2,935.9 1640.0,934.2 1640.8,934.4 1641.5,930.0 1642.2,934.3 1642.8,931.4 1643.4,934.5 1644.1,938.0 1644.8,937.5 1645.3,934.4 1646.1,931.7 1646.7,931.5 1647.2,928.8 1647.9,928.6 1648.5,933.1 1649.1,933.7 1649.8,937.5 1650.5,931.6 1651.2,934.9 1652.0,935.0 1652.8,928.8 1653.5,932.2 1654.0,934.8 1654.7,937.2 1655.3,930.0 1656.0,929.5 1656.6,933.0 1657.2,929.7 1657.9,936.7 1658.5,938.8 1659.3,934.1 1660.0,938.8 1660.8,935.4 1661.5,940.0 1662.3,931.6 1663.0,937.1 1663.6,932.4 1664.4,936.1 1665.1,932.4 1665.8,930.6 1666.5,929.4 1667.2,926.2 1667.8,930.2 1668.6,932.6 1669.1,930.5 1669.9,933.9 1670.5,935.0 1671.2,933.7 1672.0,936.6 1672.8,935.5 1673.5,933.8 1674.2,937.8 1674.8,936.3 1675.3,936.7 1676.0,937.5 1676.8,934.6 1677.5,936.1 1678.2,933.9 1679.0,934.5 1679.6,939.6 1680.4,934.6 1680.9,936.6 1681.6,938.0 1682.2,941.2 1683.0,940.6 1683.6,939.4 1684.3,939.1 1684.9,936.8 1685.5,942.0 1686.1,935.4 1686.7,935.8 1687.4,936.0 1688.0,928.8 1688.6,935.1 1689.3,936.5 1689.9,936.9 1690.5,930.0 1691.4,938.7 1692.2,943.8 1693.0,943.6 1693.7,940.7 1694.4,942.8 1695.2,948.8 1695.9,945.8 1696.6,944.3 1697.3,938.9 1697.9,945.7 1698.5,940.0 1699.1,945.7 1699.8,946.2 1700.4,942.3 1701.0,941.6 1701.8,932.5 1702.6,942.6 1703.3,939.7 1704.0,940.6 1704.8,941.2 1705.5,940.0 1706.2,942.7 1707.0,940.5 1707.8,939.3 1708.5,947.5 1709.2,942.9 1710.0,940.7 1710.8,936.6 1711.5,936.2 1712.1,940.9 1712.8,940.4 1713.3,939.6 1714.0,942.5 1714.7,939.9 1715.3,945.0 1715.9,940.8 1716.5,941.6 1717.2,940.0 1718.1,938.5 1718.7,944.5 1719.5,941.4 1720.2,947.5 1720.9,947.2 1721.5,947.6 1722.3,947.0 1722.9,943.8 1723.5,942.0 1724.3,944.7 1724.8,945.0 1725.6,945.5 1726.4,947.7 1727.0,944.0 1727.8,948.8 1728.5,946.1 1729.1,943.5 1729.7,941.9 1730.3,942.5 1731.0,943.3 1731.8,941.3 1732.3,943.3 1733.0,938.8 1733.6,941.2 1734.2,942.0 1734.9,942.8 1735.5,943.8 1736.1,942.0 1736.8,946.2 1737.3,946.3 1738.0,941.2 1738.8,942.7 1739.8,950.0 1740.3,946.5 1741.0,945.8 1741.7,945.2 1742.3,950.2 1743.0,951.2 1743.8,944.4 1744.5,944.5 1745.2,943.4 1746.0,937.0 1746.7,946.1 1747.5,947.7 1748.3,946.3 1749.0,947.5 1749.7,945.5 1750.3,948.2 1750.9,948.1 1751.6,946.7 1752.2,953.8 1752.8,948.0 1753.5,949.7 1754.3,949.3 1754.8,948.4 1755.5,947.5 1756.2,955.8 1757.0,956.1 1757.7,958.5 1758.5,955.0 1759.1,956.3 1759.8,965.0 1760.6,955.3 1761.5,950.0 1762.1,955.1 1762.7,951.3 1763.4,952.9 1764.2,948.3 1764.8,955.0 1765.5,950.1 1766.2,947.9 1767.0,952.8 1767.8,949.0 1768.5,950.0 1769.3,950.7 1770.0,954.8 1770.7,948.9 1771.5,950.8 1772.2,943.8 1772.9,947.8 1773.6,947.3 1774.3,951.2 1775.0,953.7 1775.8,949.1 1776.5,946.2 1777.2,949.9 1777.8,951.0 1778.5,960.0 1779.3,952.7 1780.1,954.1 1780.8,951.3 1781.6,955.1 1782.2,961.2 1783.0,951.7 1783.8,956.6 1784.5,955.0 1785.3,954.5 1786.0,957.5 1786.5,957.8 1787.3,950.2 1787.8,951.4 1788.5,948.8 1789.2,949.7 1790.0,954.2 1790.8,954.8 1791.5,953.8 1792.3,954.0 1793.0,946.2 1793.7,955.6 1794.4,951.4 1795.1,952.1 1795.8,954.7 1796.5,954.2 1797.2,948.8 1797.9,950.5 1798.5,952.9 1799.2,954.3 1799.8,956.0 1800.5,960.0 1801.2,950.1 1801.9,952.2 1802.5,955.4 1803.4,953.5 1804.0,952.5 1804.6,954.6 1805.3,954.4 1806.0,948.5 1806.6,952.6 1807.2,946.2 1808.0,954.0 1808.6,950.6 1809.2,950.2 1809.9,951.8 1810.5,955.0 1811.2,949.3 1811.9,952.3 1812.6,951.2 1813.4,950.1 1814.0,945.0 1814.6,953.9 1815.3,949.8 1815.9,952.5 1816.6,951.6 1817.2,957.5 1818.0,953.1 1818.8,954.1 1819.5,954.8 1820.3,953.2 1821.0,956.2 1821.7,954.1 1822.5,955.5 1823.3,954.6 1824.1,956.6 1824.8,955.0 1825.4,955.5 1826.0,956.5 1826.6,954.8 1827.2,958.8 1827.9,953.3 1828.5,956.2 1829.2,953.4 1829.9,956.5 1830.5,950.8 1831.2,954.9 1832.1,952.7 1832.8,958.8 1833.4,953.5 1834.1,957.4 1834.6,953.2 1835.4,958.0 1836.0,951.2 1836.7,953.8 1837.4,957.4 1838.3,958.1 1839.0,957.5 1839.6,957.6 1840.3,954.1 1840.8,953.5 1841.5,961.2 1842.2,957.0 1842.9,959.4 1843.8,958.1 1844.5,957.6 1845.2,955.0 1846.0,959.7 1846.6,960.0 1847.2,961.2 1847.8,962.2 1848.5,962.5 1849.1,962.1 1849.7,961.4 1850.4,961.7 1851.0,967.5 1851.7,958.3 1852.5,958.9 1853.3,960.5 1854.0,954.5 1854.7,960.6 1855.3,959.3 1856.0,962.0 1856.6,960.0 1857.2,961.2 1858.0,959.1 1858.7,961.9 1859.6,962.1 1860.2,961.0 1861.0,965.8 1861.7,962.1 1862.5,961.4 1863.2,961.4 1863.8,959.4 1864.6,961.6 1865.3,955.7 1866.0,962.5 1866.8,960.0 1867.4,963.6 1868.2,961.5 1868.9,960.5 1869.5,959.6 1870.2,960.3 1871.0,955.5 1871.8,958.0 1872.6,957.7 1873.2,957.2 1874.0,960.0 1874.6,962.5 1875.4,961.4 1875.9,960.7 1876.7,961.1 1877.3,959.9 1878.0,960.0 1878.8,959.5 1879.5,959.7 1880.3,956.5 1881.0,955.5 1881.7,959.0 1882.4,959.7 1883.3,960.0 1884.0,964.5 1884.6,962.9 1885.4,958.6 1886.0,961.4 1886.5,956.6 1887.2,957.0 1887.9,959.8 1888.5,961.2 1889.2,960.1 1889.9,965.6 1890.5,962.5 1891.0,964.0 1891.7,963.4 1892.4,966.4 1893.0,968.8 1893.8,963.3 1894.6,961.2 1895.3,964.0 1896.0,962.5 1896.7,961.3 1897.5,959.2 1898.2,960.7 1898.9,961.0 1899.8,960.5 1900.5,961.2 1901.3,961.5 1902.0,963.9 1902.7,959.8 1903.5,955.0 1904.1,961.2 1904.7,959.1 1905.4,961.1 1906.0,962.5 1906.7,960.2 1907.3,959.5 1907.9,960.6 1908.5,965.5 1909.1,964.2 1909.8,962.2 1910.4,964.3 1911.2,964.1 1911.8,956.2 1912.4,962.2 1913.2,963.7 1913.9,961.6 1914.8,965.8 1915.5,967.5 1916.2,962.9 1916.9,964.7 1917.5,968.3 1918.3,968.1 1919.0,964.5 1919.7,968.3 1920.4,966.5 1921.0,962.0 1921.6,965.9 1922.2,962.5 1922.9,965.0 1923.5,970.0 1924.3,968.0 1925.0,965.3 1925.7,964.1 1926.5,962.0 1927.1,965.5 1927.8,967.0 1928.3,965.6 1929.0,970.5 1929.7,964.3 1930.4,966.9 1930.9,963.1 1931.7,963.4 1932.2,965.0 1932.9,964.4 1933.8,961.9 1934.6,964.5 1935.3,961.1 1936.0,957.5 1936.7,959.3 1937.3,960.2 1938.0,962.5 1938.7,959.2 1939.6,956.6 1940.2,961.9 1941.0,953.2 1941.7,961.1 1942.4,961.8 1943.3,963.5 1944.0,970.0 1944.6,967.4 1945.2,966.7 1945.9,964.4 1946.6,966.0 1947.2,965.0 1948.0,963.8 1948.8,970.0 1949.5,965.0 1950.3,965.0 1951.0,965.5 1951.7,961.8 1952.3,965.8 1952.8,964.4 1953.5,963.8 1954.2,965.6 1955.0,965.9 1955.8,967.3 1956.5,971.2 1957.2,967.9 1957.8,968.6 1958.4,964.8 1959.0,965.7 1959.8,961.2 1960.4,966.6 1961.0,965.0"/>
</g>
<g id="legend" stroke-width="5" stroke-linecap="round">
<line x1="1049" y1="202" x2="1226.5" y2="202" stroke="#ff0000"/>
<line x1="1049" y1="325.5" x2="1226.5" y2="325.5" stroke="#000000"/>
<line x1="1049" y1="450.5" x2="1226.5" y2="450.5" stroke="#0433ff"/>
</g>
<g id="legendtext" font-family="'Liberation Serif', serif" font-size="80" fill="#000">
<text x="1246.5" y="228.6" letter-spacing="0">YPP film</text>
<text x="1246.5" y="353.0" letter-spacing="0">SA</text>
<text x="1246.5" y="477.0" letter-spacing="-0.55">YPP-SA-G film</text>
</g>
<g id="ticklabels" font-family="'Liberation Serif', serif" font-size="87.5" fill="#000" text-anchor="middle">
<text x="232.0" y="1552.3">10</text>
<text x="520.2" y="1552.3">20</text>
<text x="808.3" y="1552.3">30</text>
<text x="1096.5" y="1552.3">40</text>
<text x="1384.7" y="1552.3">50</text>
<text x="1672.8" y="1552.3">60</text>
<text x="1961.0" y="1552.3">70</text>
</g>
<text id="xlabel" font-family="'Liberation Serif', serif" font-size="99.6" fill="#000" text-anchor="middle" x="1096.6" y="1703.0">2θ(°)</text>
<text id="ylabel" font-family="'Liberation Serif', serif" font-size="118.6" fill="#000" text-anchor="middle" transform="translate(120.6 708.5) rotate(-90)">Intensiity(a.u.)</text>
</svg>
</body>
</html>
